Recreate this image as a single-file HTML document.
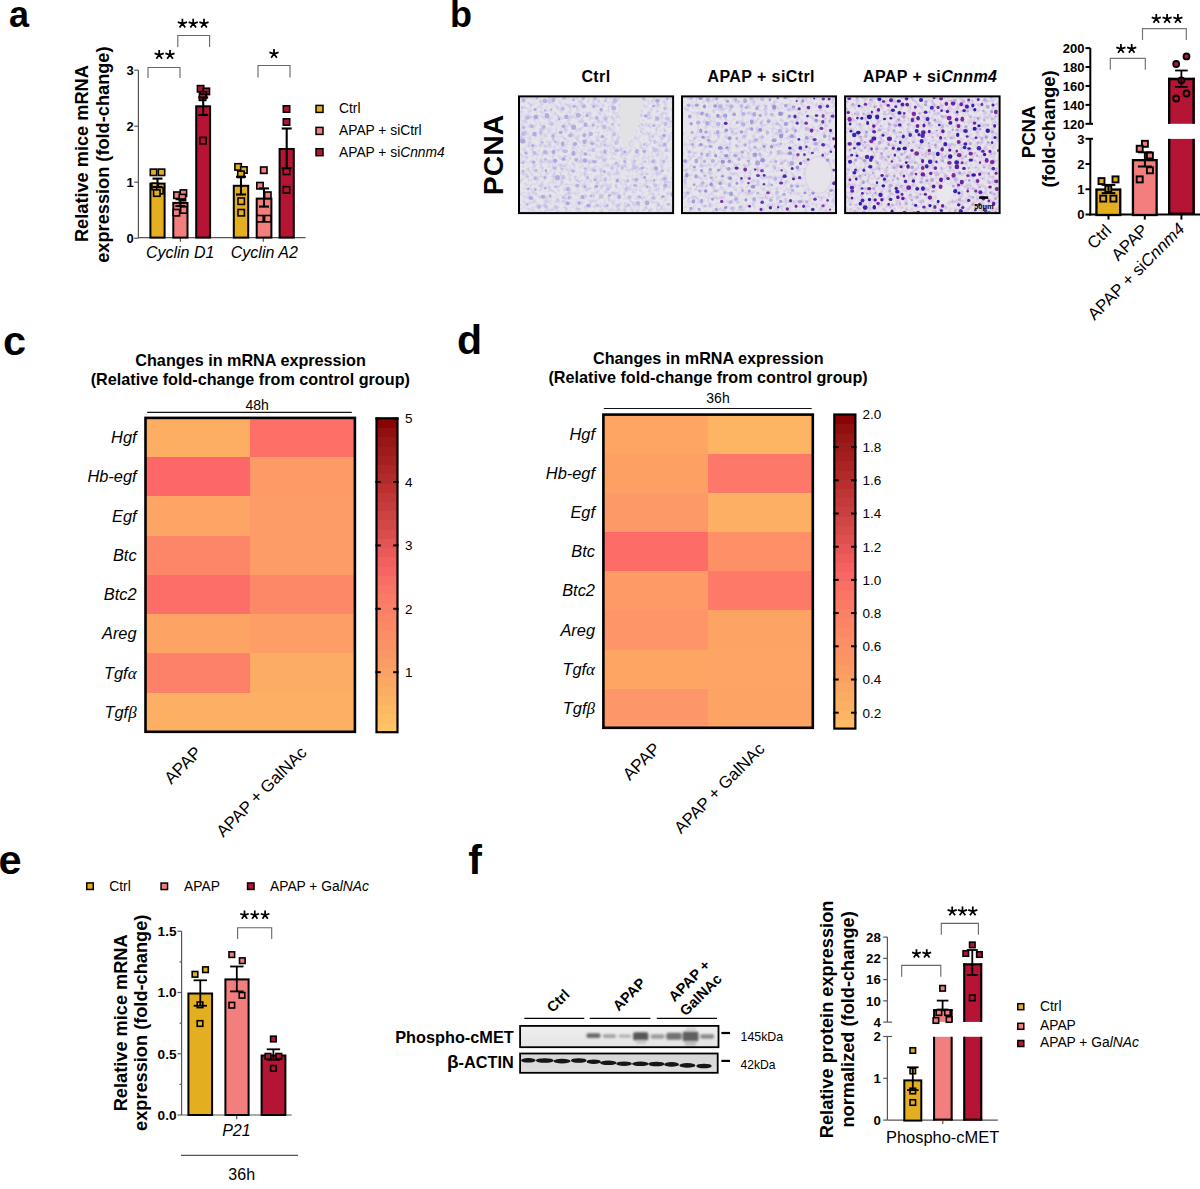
<!DOCTYPE html><html><head><meta charset="utf-8"><style>html,body{margin:0;padding:0;background:#fff;}svg{display:block;}</style></head><body><svg width="1200" height="1189" viewBox="0 0 1200 1189" font-family='"Liberation Sans", sans-serif'>
<rect width="1200" height="1189" fill="#fff"/>
<text x="9" y="27" font-size="36" font-weight="bold" fill="#000">a</text>
<text x="450" y="27" font-size="36" font-weight="bold" fill="#000">b</text>
<text x="3" y="355.2" font-size="41.5" font-weight="bold" fill="#000">c</text>
<text x="457" y="354" font-size="41" font-weight="bold" fill="#000">d</text>
<text x="-1.6" y="874" font-size="41.5" font-weight="bold" fill="#000">e</text>
<text x="468.2" y="873.6" font-size="41" font-weight="bold" fill="#000">f</text>
<line x1="138.4" y1="70.2" x2="138.4" y2="238.2" stroke="#565656" stroke-width="1.2"/>
<line x1="138.4" y1="237.7" x2="305.6" y2="237.7" stroke="#565656" stroke-width="1.2"/>
<line x1="134.2" y1="238.2" x2="138.4" y2="238.2" stroke="#565656" stroke-width="1.2"/>
<text x="133.8" y="242.89999999999998" font-size="13" font-weight="bold" text-anchor="end" fill="#000">0</text>
<line x1="134.2" y1="182.2" x2="138.4" y2="182.2" stroke="#565656" stroke-width="1.2"/>
<text x="133.8" y="186.89999999999998" font-size="13" font-weight="bold" text-anchor="end" fill="#000">1</text>
<line x1="134.2" y1="126.19999999999999" x2="138.4" y2="126.19999999999999" stroke="#565656" stroke-width="1.2"/>
<text x="133.8" y="130.89999999999998" font-size="13" font-weight="bold" text-anchor="end" fill="#000">2</text>
<line x1="134.2" y1="70.19999999999999" x2="138.4" y2="70.19999999999999" stroke="#565656" stroke-width="1.2"/>
<text x="133.8" y="74.89999999999999" font-size="13" font-weight="bold" text-anchor="end" fill="#000">3</text>
<line x1="180.4" y1="237.6" x2="180.4" y2="241.7" stroke="#565656" stroke-width="1.2"/>
<line x1="263.3" y1="237.6" x2="263.3" y2="241.7" stroke="#565656" stroke-width="1.2"/>
<text x="180.2" y="258" font-size="16" font-style="italic" text-anchor="middle" fill="#000">Cyclin D1</text>
<text x="264.3" y="258" font-size="16" font-style="italic" text-anchor="middle" fill="#000">Cyclin A2</text>
<text x="88.3" y="153.6" font-size="18.2" font-weight="bold" text-anchor="middle" transform="rotate(-90 88.3 153.6)" fill="#000">Relative mice mRNA</text>
<text x="108.8" y="154.6" font-size="18.2" font-weight="bold" text-anchor="middle" transform="rotate(-90 108.8 154.6)" fill="#000">expression (fold-change)</text>
<rect x="150.40" y="183.60" width="14.20" height="54.00" fill="#E3AE1F" stroke="#000" stroke-width="2"/>
<rect x="173.30" y="202.90" width="14.20" height="34.70" fill="#F27E7E" stroke="#000" stroke-width="2"/>
<rect x="196.20" y="106.30" width="13.90" height="131.30" fill="#B51434" stroke="#000" stroke-width="2"/>
<rect x="233.80" y="185.80" width="14.40" height="51.80" fill="#E3AE1F" stroke="#000" stroke-width="2"/>
<rect x="256.70" y="198.60" width="14.70" height="39.00" fill="#F27E7E" stroke="#000" stroke-width="2"/>
<rect x="279.60" y="149.00" width="14.20" height="88.60" fill="#B51434" stroke="#000" stroke-width="2"/>
<rect x="150.30" y="169.10" width="6.40" height="6.40" fill="#E3AE1F" stroke="#000" stroke-width="1.6"/>
<rect x="158.30" y="169.10" width="6.40" height="6.40" fill="#E3AE1F" stroke="#000" stroke-width="1.6"/>
<rect x="151.90" y="183.20" width="6.40" height="6.40" fill="#E3AE1F" stroke="#000" stroke-width="1.6"/>
<rect x="156.70" y="187.50" width="6.40" height="6.40" fill="#E3AE1F" stroke="#000" stroke-width="1.6"/>
<rect x="153.60" y="189.90" width="6.40" height="6.40" fill="#E3AE1F" stroke="#000" stroke-width="1.6"/>
<rect x="173.80" y="192.00" width="6.40" height="6.40" fill="#F27E7E" stroke="#000" stroke-width="1.6"/>
<rect x="180.20" y="189.90" width="6.40" height="6.40" fill="#F27E7E" stroke="#000" stroke-width="1.6"/>
<rect x="179.20" y="194.40" width="6.40" height="6.40" fill="#F27E7E" stroke="#000" stroke-width="1.6"/>
<rect x="173.20" y="209.50" width="6.40" height="6.40" fill="#F27E7E" stroke="#000" stroke-width="1.6"/>
<rect x="180.60" y="206.80" width="6.40" height="6.40" fill="#F27E7E" stroke="#000" stroke-width="1.6"/>
<rect x="197.40" y="85.60" width="6.40" height="6.40" fill="#B51434" stroke="#000" stroke-width="1.6"/>
<rect x="203.10" y="88.20" width="6.40" height="6.40" fill="#B51434" stroke="#000" stroke-width="1.6"/>
<rect x="200.10" y="91.60" width="6.40" height="6.40" fill="#B51434" stroke="#000" stroke-width="1.6"/>
<rect x="199.40" y="94.00" width="6.40" height="6.40" fill="#B51434" stroke="#000" stroke-width="1.6"/>
<rect x="199.80" y="137.40" width="6.40" height="6.40" fill="#B51434" stroke="#000" stroke-width="1.6"/>
<rect x="234.90" y="163.70" width="6.40" height="6.40" fill="#E3AE1F" stroke="#000" stroke-width="1.6"/>
<rect x="240.70" y="166.80" width="6.40" height="6.40" fill="#E3AE1F" stroke="#000" stroke-width="1.6"/>
<rect x="237.70" y="171.10" width="6.40" height="6.40" fill="#E3AE1F" stroke="#000" stroke-width="1.6"/>
<rect x="238.00" y="198.00" width="6.40" height="6.40" fill="#E3AE1F" stroke="#000" stroke-width="1.6"/>
<rect x="238.00" y="209.50" width="6.40" height="6.40" fill="#E3AE1F" stroke="#000" stroke-width="1.6"/>
<rect x="260.60" y="167.00" width="6.40" height="6.40" fill="#F27E7E" stroke="#000" stroke-width="1.6"/>
<rect x="256.80" y="182.50" width="6.40" height="6.40" fill="#F27E7E" stroke="#000" stroke-width="1.6"/>
<rect x="264.60" y="192.00" width="6.40" height="6.40" fill="#F27E7E" stroke="#000" stroke-width="1.6"/>
<rect x="256.80" y="215.50" width="6.40" height="6.40" fill="#F27E7E" stroke="#000" stroke-width="1.6"/>
<rect x="264.60" y="215.50" width="6.40" height="6.40" fill="#F27E7E" stroke="#000" stroke-width="1.6"/>
<rect x="283.30" y="105.80" width="6.40" height="6.40" fill="#B51434" stroke="#000" stroke-width="1.6"/>
<rect x="283.30" y="118.80" width="6.40" height="6.40" fill="#B51434" stroke="#000" stroke-width="1.6"/>
<rect x="283.30" y="168.10" width="6.40" height="6.40" fill="#B51434" stroke="#000" stroke-width="1.6"/>
<rect x="283.30" y="186.60" width="6.40" height="6.40" fill="#B51434" stroke="#000" stroke-width="1.6"/>
<line x1="157.5" y1="178.6" x2="157.5" y2="187" stroke="#000" stroke-width="2.1"/>
<line x1="152.5" y1="178.6" x2="162.5" y2="178.6" stroke="#000" stroke-width="2.1"/>
<line x1="152.5" y1="187" x2="162.5" y2="187" stroke="#000" stroke-width="2.1"/>
<line x1="180.4" y1="199.2" x2="180.4" y2="206" stroke="#000" stroke-width="2.1"/>
<line x1="175.4" y1="199.2" x2="185.4" y2="199.2" stroke="#000" stroke-width="2.1"/>
<line x1="175.4" y1="206" x2="185.4" y2="206" stroke="#000" stroke-width="2.1"/>
<line x1="203.2" y1="97.5" x2="203.2" y2="115" stroke="#000" stroke-width="2.1"/>
<line x1="198.2" y1="97.5" x2="208.2" y2="97.5" stroke="#000" stroke-width="2.1"/>
<line x1="198.2" y1="115" x2="208.2" y2="115" stroke="#000" stroke-width="2.1"/>
<line x1="241" y1="176.7" x2="241" y2="194.5" stroke="#000" stroke-width="2.1"/>
<line x1="236.0" y1="176.7" x2="246.0" y2="176.7" stroke="#000" stroke-width="2.1"/>
<line x1="236.0" y1="194.5" x2="246.0" y2="194.5" stroke="#000" stroke-width="2.1"/>
<line x1="264" y1="188.4" x2="264" y2="206.6" stroke="#000" stroke-width="2.1"/>
<line x1="259.0" y1="188.4" x2="269.0" y2="188.4" stroke="#000" stroke-width="2.1"/>
<line x1="259.0" y1="206.6" x2="269.0" y2="206.6" stroke="#000" stroke-width="2.1"/>
<line x1="286.7" y1="128.5" x2="286.7" y2="168.2" stroke="#000" stroke-width="2.1"/>
<line x1="281.7" y1="128.5" x2="291.7" y2="128.5" stroke="#000" stroke-width="2.1"/>
<line x1="281.7" y1="168.2" x2="291.7" y2="168.2" stroke="#000" stroke-width="2.1"/>
<polyline points="148,78 148,67.5 180,67.5 180,78" fill="none" stroke="#666666" stroke-width="1.1"/>
<polyline points="177.8,47 177.8,35.5 209.6,35.5 209.6,47" fill="none" stroke="#666666" stroke-width="1.1"/>
<polyline points="258,77.5 258,65.5 290,65.5 290,77.5" fill="none" stroke="#666666" stroke-width="1.1"/>
<path d="M159.20,54.80L159.20,50.00M159.20,54.80L163.77,53.32M159.20,54.80L162.02,58.68M159.20,54.80L156.38,58.68M159.20,54.80L154.63,53.32" stroke="#000" stroke-width="1.75" fill="none"/>
<path d="M170.00,54.80L170.00,50.00M170.00,54.80L174.57,53.32M170.00,54.80L172.82,58.68M170.00,54.80L167.18,58.68M170.00,54.80L165.43,53.32" stroke="#000" stroke-width="1.75" fill="none"/>
<path d="M182.40,23.55L182.40,18.75M182.40,23.55L186.97,22.07M182.40,23.55L185.22,27.43M182.40,23.55L179.58,27.43M182.40,23.55L177.83,22.07" stroke="#000" stroke-width="1.75" fill="none"/>
<path d="M193.20,23.55L193.20,18.75M193.20,23.55L197.77,22.07M193.20,23.55L196.02,27.43M193.20,23.55L190.38,27.43M193.20,23.55L188.63,22.07" stroke="#000" stroke-width="1.75" fill="none"/>
<path d="M204.00,23.55L204.00,18.75M204.00,23.55L208.57,22.07M204.00,23.55L206.82,27.43M204.00,23.55L201.18,27.43M204.00,23.55L199.43,22.07" stroke="#000" stroke-width="1.75" fill="none"/>
<path d="M274.00,53.80L274.00,49.00M274.00,53.80L278.57,52.32M274.00,53.80L276.82,57.68M274.00,53.80L271.18,57.68M274.00,53.80L269.43,52.32" stroke="#000" stroke-width="1.75" fill="none"/>
<rect x="316.00" y="105.40" width="7.00" height="7.00" fill="#E3AE1F" stroke="#000" stroke-width="1.5"/>
<rect x="316.00" y="127.40" width="7.00" height="7.00" fill="#F27E7E" stroke="#000" stroke-width="1.5"/>
<rect x="316.00" y="148.70" width="7.00" height="7.00" fill="#B51434" stroke="#000" stroke-width="1.5"/>
<text x="339" y="113.3" font-size="13.8" fill="#000">Ctrl</text>
<text x="339" y="134.7" font-size="13.8" fill="#000">APAP + siCtrl</text>
<text x="339" y="156.7" font-size="13.8" fill="#000">APAP + si<tspan font-style="italic">Cnnm4</tspan></text>
<text x="502.6" y="154.9" font-size="28.4" font-weight="bold" text-anchor="middle" transform="rotate(-90 502.6 154.9)" fill="#000">PCNA</text>
<text x="596" y="81.7" font-size="16" font-weight="bold" text-anchor="middle" fill="#000" letter-spacing="0.42">Ctrl</text>
<text x="761.2" y="81.7" font-size="16" font-weight="bold" text-anchor="middle" fill="#000" letter-spacing="0.42">APAP + siCtrl</text>
<text x="930.2" y="81.7" font-size="16" font-weight="bold" text-anchor="middle" fill="#000" letter-spacing="0.4">APAP + si<tspan font-style="italic">Cnnm4</tspan></text>
<defs><filter id="bl" x="-5%" y="-5%" width="110%" height="110%"><feGaussianBlur stdDeviation="0.6"/></filter><filter id="bl2" x="-50%" y="-50%" width="200%" height="200%"><feGaussianBlur stdDeviation="0.9"/></filter><filter id="tx1" x="0" y="0" width="100%" height="100%" color-interpolation-filters="sRGB"><feTurbulence type="fractalNoise" baseFrequency="0.25" numOctaves="3" seed="3"/><feColorMatrix values="0 0 0 0 0.79  0 0 0 0 0.76  0 0 0 0 0.90  2.4 0 0 0 -1.0"/></filter><filter id="tx2" x="0" y="0" width="100%" height="100%" color-interpolation-filters="sRGB"><feTurbulence type="fractalNoise" baseFrequency="0.25" numOctaves="3" seed="5"/><feColorMatrix values="0 0 0 0 0.79  0 0 0 0 0.74  0 0 0 0 0.90  2.4 0 0 0 -1.05"/></filter><filter id="tx3" x="0" y="0" width="100%" height="100%" color-interpolation-filters="sRGB"><feTurbulence type="fractalNoise" baseFrequency="0.25" numOctaves="3" seed="7"/><feColorMatrix values="0 0 0 0 0.80  0 0 0 0 0.70  0 0 0 0 0.88  2.4 0 0 0 -1.0"/></filter></defs>
<defs><clipPath id="c1"><rect x="520" y="97.4" width="152.10" height="114.70"/></clipPath></defs>
<g clip-path="url(#c1)">
<rect x="520.00" y="97.40" width="152.10" height="114.70" fill="#E7E5EC"/>
<rect x="520" y="97.4" width="152.10000000000002" height="114.69999999999999" filter="url(#tx1)"/>
<path d="M620.2,96 L641.8,96 C641.5,116 635,138 625,147.5 C622,146.5 620.6,140 620.4,128 Z" fill="#E2E2E4"/>
<g filter="url(#bl)"><ellipse cx="523.7" cy="100.1" rx="1.9" ry="2.2" fill="#B6B2E2"/><ellipse cx="537.0" cy="98.1" rx="1.5" ry="1.5" fill="#B6B2E2"/><ellipse cx="544.9" cy="100.8" rx="2.4" ry="2.4" fill="#B6B2E2"/><ellipse cx="553.3" cy="99.8" rx="2.0" ry="2.6" fill="#B6B2E2"/><ellipse cx="564.3" cy="97.8" rx="2.0" ry="2.0" fill="#B6B2E2"/><ellipse cx="573.5" cy="99.7" rx="1.7" ry="1.5" fill="#BEBAE6"/><ellipse cx="583.3" cy="98.1" rx="1.7" ry="1.8" fill="#B2ACE0"/><ellipse cx="595.0" cy="98.5" rx="1.9" ry="2.1" fill="#BEBAE6"/><ellipse cx="605.3" cy="101.1" rx="1.9" ry="1.4" fill="#C6C2E8"/><ellipse cx="614.9" cy="100.5" rx="2.2" ry="2.7" fill="#BEBAE6"/><ellipse cx="643.5" cy="98.4" rx="1.5" ry="1.5" fill="#B6B2E2"/><ellipse cx="657.4" cy="100.8" rx="2.3" ry="2.0" fill="#AEA8DE"/><ellipse cx="667.2" cy="98.8" rx="1.2" ry="1.6" fill="#B2ACE0"/><ellipse cx="522.2" cy="107.7" rx="1.4" ry="1.4" fill="#C6C2E8"/><ellipse cx="535.0" cy="109.6" rx="1.6" ry="1.5" fill="#B2ACE0"/><ellipse cx="545.0" cy="110.2" rx="1.2" ry="1.5" fill="#BEBAE6"/><ellipse cx="551.1" cy="109.7" rx="1.3" ry="1.6" fill="#BEBAE6"/><ellipse cx="562.7" cy="108.5" rx="2.1" ry="2.1" fill="#BEBAE6"/><ellipse cx="574.1" cy="106.2" rx="1.7" ry="1.5" fill="#B2ACE0"/><ellipse cx="583.9" cy="106.3" rx="2.3" ry="2.0" fill="#B6B2E2"/><ellipse cx="593.7" cy="106.5" rx="1.3" ry="1.4" fill="#B2ACE0"/><ellipse cx="601.2" cy="109.8" rx="1.8" ry="2.0" fill="#B2ACE0"/><ellipse cx="613.7" cy="108.1" rx="2.6" ry="2.2" fill="#B6B2E2"/><ellipse cx="653.5" cy="106.1" rx="1.7" ry="1.4" fill="#B2ACE0"/><ellipse cx="664.8" cy="108.3" rx="1.5" ry="1.7" fill="#BEBAE6"/><ellipse cx="527.6" cy="117.5" rx="2.4" ry="2.3" fill="#BEBAE6"/><ellipse cx="535.8" cy="117.1" rx="2.4" ry="2.3" fill="#AEA8DE"/><ellipse cx="546.9" cy="115.7" rx="2.3" ry="2.7" fill="#B2ACE0"/><ellipse cx="559.2" cy="119.0" rx="1.2" ry="1.4" fill="#AEA8DE"/><ellipse cx="566.3" cy="116.9" rx="2.2" ry="2.3" fill="#B2ACE0"/><ellipse cx="578.3" cy="115.2" rx="2.5" ry="2.5" fill="#B6B2E2"/><ellipse cx="586.9" cy="115.6" rx="1.6" ry="1.5" fill="#AEA8DE"/><ellipse cx="596.9" cy="118.1" rx="1.8" ry="1.8" fill="#B6B2E2"/><ellipse cx="605.5" cy="118.8" rx="2.0" ry="1.9" fill="#BEBAE6"/><ellipse cx="645.8" cy="115.9" rx="2.0" ry="1.7" fill="#AEA8DE"/><ellipse cx="657.2" cy="118.5" rx="2.2" ry="2.2" fill="#B6B2E2"/><ellipse cx="667.4" cy="118.8" rx="2.5" ry="1.9" fill="#C6C2E8"/><ellipse cx="523.6" cy="127.4" rx="2.1" ry="1.7" fill="#BEBAE6"/><ellipse cx="531.9" cy="126.3" rx="1.8" ry="1.9" fill="#B6B2E2"/><ellipse cx="543.8" cy="127.1" rx="1.9" ry="2.0" fill="#B6B2E2"/><ellipse cx="551.5" cy="124.0" rx="2.1" ry="2.2" fill="#C6C2E8"/><ellipse cx="563.3" cy="126.3" rx="1.8" ry="1.8" fill="#B2ACE0"/><ellipse cx="573.6" cy="127.2" rx="2.5" ry="2.6" fill="#B2ACE0"/><ellipse cx="585.5" cy="124.7" rx="2.0" ry="2.2" fill="#B2ACE0"/><ellipse cx="593.2" cy="125.3" rx="1.3" ry="1.2" fill="#AEA8DE"/><ellipse cx="604.3" cy="127.0" rx="2.4" ry="2.2" fill="#BEBAE6"/><ellipse cx="612.4" cy="124.2" rx="1.8" ry="1.5" fill="#C6C2E8"/><ellipse cx="653.8" cy="125.5" rx="1.7" ry="1.6" fill="#B6B2E2"/><ellipse cx="665.5" cy="124.1" rx="2.0" ry="2.1" fill="#BEBAE6"/><ellipse cx="523.6" cy="133.6" rx="2.4" ry="2.3" fill="#BEBAE6"/><ellipse cx="534.4" cy="134.2" rx="2.3" ry="2.4" fill="#B2ACE0"/><ellipse cx="540.6" cy="132.7" rx="1.5" ry="2.0" fill="#BEBAE6"/><ellipse cx="553.0" cy="135.9" rx="1.8" ry="1.8" fill="#B6B2E2"/><ellipse cx="560.7" cy="132.5" rx="2.0" ry="1.8" fill="#B2ACE0"/><ellipse cx="570.4" cy="135.5" rx="2.1" ry="2.1" fill="#B6B2E2"/><ellipse cx="584.3" cy="135.2" rx="2.0" ry="2.1" fill="#B2ACE0"/><ellipse cx="591.0" cy="133.9" rx="2.0" ry="2.0" fill="#B6B2E2"/><ellipse cx="602.4" cy="136.7" rx="2.1" ry="1.6" fill="#B2ACE0"/><ellipse cx="613.8" cy="134.3" rx="2.1" ry="2.2" fill="#C6C2E8"/><ellipse cx="652.9" cy="136.3" rx="1.3" ry="1.7" fill="#C6C2E8"/><ellipse cx="664.0" cy="135.4" rx="2.1" ry="1.6" fill="#AEA8DE"/><ellipse cx="522.8" cy="141.2" rx="2.7" ry="2.4" fill="#AEA8DE"/><ellipse cx="532.7" cy="145.4" rx="1.4" ry="1.5" fill="#AEA8DE"/><ellipse cx="542.0" cy="142.4" rx="1.7" ry="1.4" fill="#BEBAE6"/><ellipse cx="555.2" cy="141.8" rx="1.2" ry="1.3" fill="#B2ACE0"/><ellipse cx="562.7" cy="143.8" rx="1.9" ry="2.5" fill="#B2ACE0"/><ellipse cx="575.1" cy="143.8" rx="2.1" ry="1.9" fill="#AEA8DE"/><ellipse cx="584.4" cy="141.8" rx="2.1" ry="2.2" fill="#B2ACE0"/><ellipse cx="592.3" cy="143.5" rx="2.1" ry="1.6" fill="#B2ACE0"/><ellipse cx="604.7" cy="144.7" rx="1.2" ry="1.5" fill="#BEBAE6"/><ellipse cx="615.9" cy="142.9" rx="2.0" ry="2.0" fill="#C6C2E8"/><ellipse cx="644.0" cy="144.5" rx="1.4" ry="1.5" fill="#C6C2E8"/><ellipse cx="654.9" cy="142.1" rx="1.8" ry="1.8" fill="#C6C2E8"/><ellipse cx="664.7" cy="144.6" rx="1.8" ry="2.0" fill="#B2ACE0"/><ellipse cx="526.0" cy="153.0" rx="1.6" ry="1.6" fill="#B2ACE0"/><ellipse cx="534.3" cy="153.0" rx="1.9" ry="2.0" fill="#BEBAE6"/><ellipse cx="545.2" cy="152.1" rx="2.4" ry="2.2" fill="#B6B2E2"/><ellipse cx="553.5" cy="152.1" rx="2.0" ry="2.1" fill="#AEA8DE"/><ellipse cx="565.1" cy="151.2" rx="2.6" ry="1.9" fill="#BEBAE6"/><ellipse cx="573.5" cy="153.3" rx="2.0" ry="2.6" fill="#AEA8DE"/><ellipse cx="585.4" cy="153.9" rx="1.8" ry="1.6" fill="#AEA8DE"/><ellipse cx="593.2" cy="150.0" rx="2.0" ry="2.2" fill="#C6C2E8"/><ellipse cx="604.9" cy="151.7" rx="1.8" ry="2.4" fill="#B6B2E2"/><ellipse cx="616.8" cy="150.5" rx="2.3" ry="1.9" fill="#BEBAE6"/><ellipse cx="624.8" cy="151.7" rx="1.6" ry="1.5" fill="#B2ACE0"/><ellipse cx="636.9" cy="151.2" rx="2.0" ry="2.5" fill="#B6B2E2"/><ellipse cx="644.2" cy="151.2" rx="1.8" ry="1.8" fill="#B2ACE0"/><ellipse cx="655.0" cy="150.1" rx="2.6" ry="2.3" fill="#C6C2E8"/><ellipse cx="666.3" cy="150.2" rx="1.9" ry="1.9" fill="#C6C2E8"/><ellipse cx="522.9" cy="162.9" rx="1.5" ry="1.4" fill="#BEBAE6"/><ellipse cx="533.8" cy="162.1" rx="1.6" ry="1.7" fill="#AEA8DE"/><ellipse cx="545.6" cy="159.3" rx="1.4" ry="1.6" fill="#BEBAE6"/><ellipse cx="555.1" cy="160.8" rx="2.3" ry="2.1" fill="#AEA8DE"/><ellipse cx="563.5" cy="159.2" rx="1.8" ry="1.8" fill="#AEA8DE"/><ellipse cx="576.2" cy="159.7" rx="2.0" ry="2.0" fill="#B6B2E2"/><ellipse cx="585.0" cy="160.5" rx="2.1" ry="2.2" fill="#AEA8DE"/><ellipse cx="594.2" cy="161.8" rx="2.2" ry="1.8" fill="#B2ACE0"/><ellipse cx="603.9" cy="159.9" rx="1.9" ry="1.9" fill="#C6C2E8"/><ellipse cx="616.2" cy="163.1" rx="1.5" ry="1.6" fill="#BEBAE6"/><ellipse cx="624.7" cy="161.4" rx="1.6" ry="1.6" fill="#B6B2E2"/><ellipse cx="635.0" cy="160.9" rx="1.4" ry="1.4" fill="#C6C2E8"/><ellipse cx="645.0" cy="161.8" rx="1.6" ry="1.2" fill="#C6C2E8"/><ellipse cx="653.2" cy="161.3" rx="1.9" ry="1.7" fill="#B6B2E2"/><ellipse cx="663.8" cy="161.6" rx="1.3" ry="1.7" fill="#B6B2E2"/><ellipse cx="522.9" cy="171.1" rx="1.3" ry="1.3" fill="#B6B2E2"/><ellipse cx="535.9" cy="170.4" rx="1.7" ry="1.7" fill="#BEBAE6"/><ellipse cx="545.9" cy="170.7" rx="1.2" ry="1.6" fill="#AEA8DE"/><ellipse cx="554.6" cy="168.0" rx="2.3" ry="1.8" fill="#BEBAE6"/><ellipse cx="561.9" cy="169.1" rx="1.6" ry="1.4" fill="#C6C2E8"/><ellipse cx="573.0" cy="171.3" rx="1.8" ry="1.4" fill="#B6B2E2"/><ellipse cx="585.3" cy="168.6" rx="1.8" ry="1.4" fill="#BEBAE6"/><ellipse cx="594.5" cy="170.3" rx="2.1" ry="1.6" fill="#BEBAE6"/><ellipse cx="604.3" cy="171.7" rx="1.8" ry="1.4" fill="#B6B2E2"/><ellipse cx="611.9" cy="167.9" rx="1.9" ry="1.7" fill="#C6C2E8"/><ellipse cx="622.2" cy="167.9" rx="1.5" ry="1.9" fill="#BEBAE6"/><ellipse cx="635.0" cy="167.7" rx="2.6" ry="2.1" fill="#C6C2E8"/><ellipse cx="642.2" cy="167.9" rx="2.0" ry="1.5" fill="#B6B2E2"/><ellipse cx="656.0" cy="168.5" rx="2.0" ry="2.3" fill="#AEA8DE"/><ellipse cx="662.1" cy="170.7" rx="2.0" ry="1.5" fill="#BEBAE6"/><ellipse cx="527.4" cy="176.5" rx="1.7" ry="1.5" fill="#C6C2E8"/><ellipse cx="535.1" cy="178.4" rx="1.7" ry="1.8" fill="#B6B2E2"/><ellipse cx="544.9" cy="177.6" rx="1.5" ry="1.5" fill="#B2ACE0"/><ellipse cx="557.5" cy="177.7" rx="2.4" ry="2.6" fill="#B2ACE0"/><ellipse cx="563.5" cy="177.4" rx="2.0" ry="2.3" fill="#C6C2E8"/><ellipse cx="576.9" cy="180.4" rx="1.5" ry="1.2" fill="#C6C2E8"/><ellipse cx="587.5" cy="177.7" rx="1.8" ry="1.8" fill="#BEBAE6"/><ellipse cx="595.0" cy="179.8" rx="1.8" ry="1.6" fill="#B6B2E2"/><ellipse cx="605.2" cy="179.3" rx="1.8" ry="2.2" fill="#C6C2E8"/><ellipse cx="617.3" cy="180.7" rx="1.8" ry="1.9" fill="#AEA8DE"/><ellipse cx="627.8" cy="180.7" rx="1.5" ry="1.6" fill="#BEBAE6"/><ellipse cx="636.4" cy="179.7" rx="2.0" ry="2.0" fill="#B6B2E2"/><ellipse cx="644.6" cy="177.5" rx="1.4" ry="1.4" fill="#AEA8DE"/><ellipse cx="654.1" cy="180.3" rx="1.3" ry="1.4" fill="#B2ACE0"/><ellipse cx="664.5" cy="178.7" rx="2.3" ry="1.7" fill="#B6B2E2"/><ellipse cx="528.2" cy="188.9" rx="1.3" ry="1.2" fill="#AEA8DE"/><ellipse cx="535.4" cy="189.5" rx="1.3" ry="1.5" fill="#B2ACE0"/><ellipse cx="545.3" cy="187.9" rx="1.5" ry="1.5" fill="#B6B2E2"/><ellipse cx="555.5" cy="186.8" rx="1.6" ry="1.2" fill="#BEBAE6"/><ellipse cx="567.8" cy="189.2" rx="2.1" ry="2.1" fill="#B6B2E2"/><ellipse cx="577.3" cy="185.5" rx="2.2" ry="1.8" fill="#B6B2E2"/><ellipse cx="585.0" cy="186.9" rx="1.5" ry="1.6" fill="#B2ACE0"/><ellipse cx="596.3" cy="186.4" rx="2.0" ry="1.7" fill="#AEA8DE"/><ellipse cx="607.8" cy="189.1" rx="2.0" ry="2.1" fill="#C6C2E8"/><ellipse cx="616.1" cy="186.1" rx="1.3" ry="1.8" fill="#C6C2E8"/><ellipse cx="626.4" cy="188.8" rx="1.8" ry="2.1" fill="#C6C2E8"/><ellipse cx="635.1" cy="185.4" rx="2.3" ry="1.7" fill="#BEBAE6"/><ellipse cx="647.3" cy="186.8" rx="1.4" ry="1.3" fill="#B2ACE0"/><ellipse cx="655.3" cy="185.5" rx="2.0" ry="2.1" fill="#C6C2E8"/><ellipse cx="665.4" cy="185.8" rx="2.3" ry="2.0" fill="#B6B2E2"/><ellipse cx="530.8" cy="198.0" rx="2.3" ry="2.1" fill="#B2ACE0"/><ellipse cx="542.8" cy="196.7" rx="2.4" ry="2.0" fill="#B2ACE0"/><ellipse cx="550.0" cy="195.8" rx="1.4" ry="1.3" fill="#B2ACE0"/><ellipse cx="563.3" cy="197.6" rx="1.4" ry="1.5" fill="#BEBAE6"/><ellipse cx="569.2" cy="197.7" rx="1.7" ry="1.9" fill="#B6B2E2"/><ellipse cx="582.5" cy="196.9" rx="1.9" ry="2.0" fill="#AEA8DE"/><ellipse cx="591.0" cy="195.9" rx="1.6" ry="1.3" fill="#B6B2E2"/><ellipse cx="601.0" cy="196.7" rx="2.4" ry="2.1" fill="#C6C2E8"/><ellipse cx="609.4" cy="195.6" rx="1.4" ry="1.4" fill="#AEA8DE"/><ellipse cx="619.2" cy="196.8" rx="2.1" ry="2.4" fill="#B6B2E2"/><ellipse cx="629.4" cy="197.3" rx="2.2" ry="1.7" fill="#C6C2E8"/><ellipse cx="639.4" cy="196.7" rx="1.8" ry="1.5" fill="#B6B2E2"/><ellipse cx="653.3" cy="198.0" rx="2.2" ry="1.8" fill="#BEBAE6"/><ellipse cx="662.7" cy="196.7" rx="1.7" ry="1.4" fill="#AEA8DE"/><ellipse cx="672.7" cy="194.6" rx="2.3" ry="2.4" fill="#B2ACE0"/><ellipse cx="527.0" cy="204.4" rx="1.3" ry="1.7" fill="#BEBAE6"/><ellipse cx="538.9" cy="206.7" rx="2.0" ry="2.3" fill="#BEBAE6"/><ellipse cx="546.2" cy="206.6" rx="2.0" ry="2.1" fill="#C6C2E8"/><ellipse cx="556.4" cy="207.2" rx="2.0" ry="2.0" fill="#C6C2E8"/><ellipse cx="567.6" cy="203.4" rx="2.1" ry="1.9" fill="#AEA8DE"/><ellipse cx="579.2" cy="203.0" rx="1.7" ry="1.9" fill="#B2ACE0"/><ellipse cx="588.5" cy="205.7" rx="2.3" ry="1.9" fill="#AEA8DE"/><ellipse cx="597.2" cy="205.6" rx="2.1" ry="1.6" fill="#C6C2E8"/><ellipse cx="607.0" cy="205.7" rx="1.4" ry="1.3" fill="#B6B2E2"/><ellipse cx="618.3" cy="205.2" rx="2.0" ry="1.7" fill="#C6C2E8"/><ellipse cx="628.7" cy="204.9" rx="1.5" ry="1.4" fill="#BEBAE6"/><ellipse cx="637.9" cy="203.1" rx="2.4" ry="2.2" fill="#BEBAE6"/><ellipse cx="647.1" cy="202.9" rx="2.3" ry="2.3" fill="#B2ACE0"/><ellipse cx="658.6" cy="205.1" rx="1.8" ry="1.3" fill="#C6C2E8"/><ellipse cx="668.3" cy="204.6" rx="1.7" ry="1.3" fill="#BEBAE6"/></g>
</g>
<rect x="519.00" y="96.40" width="154.10" height="116.70" fill="none" stroke="#000" stroke-width="2"/>
<defs><clipPath id="c2"><rect x="683" y="97.4" width="152.00" height="114.70"/></clipPath></defs>
<g clip-path="url(#c2)">
<rect x="683.00" y="97.40" width="152.00" height="114.70" fill="#E7E5EC"/>
<rect x="683" y="97.4" width="152" height="114.69999999999999" filter="url(#tx2)"/>
<ellipse cx="818.5" cy="175" rx="13.5" ry="18.5" fill="#E7E3EA" stroke="#DDD5E5" stroke-width="1.5"/>
<ellipse cx="690" cy="125" rx="8" ry="12" fill="#E8E4EC" opacity="0.8"/>
<g filter="url(#bl)"><ellipse cx="691.1" cy="98.1" rx="1.9" ry="2.0" fill="#C0BAE4"/><ellipse cx="700.6" cy="98.0" rx="2.2" ry="2.1" fill="#9C95D5"/><ellipse cx="707.9" cy="99.6" rx="2.0" ry="2.2" fill="#B8B2E1"/><ellipse cx="716.6" cy="98.2" rx="1.7" ry="2.2" fill="#AEA8DD"/><ellipse cx="727.5" cy="101.3" rx="1.6" ry="1.5" fill="#A59FD9"/><ellipse cx="735.7" cy="99.5" rx="1.4" ry="1.3" fill="#AEA8DD"/><ellipse cx="745.0" cy="100.9" rx="1.9" ry="2.3" fill="#AEA8DD"/><ellipse cx="751.2" cy="98.3" rx="2.0" ry="1.9" fill="#C0BAE4"/><ellipse cx="762.4" cy="99.1" rx="2.4" ry="2.1" fill="#C0BAE4"/><ellipse cx="770.0" cy="99.7" rx="1.2" ry="1.6" fill="#A59FD9"/><ellipse cx="777.7" cy="97.8" rx="1.3" ry="1.0" fill="#5E2AA6"/><ellipse cx="785.3" cy="97.4" rx="1.8" ry="1.5" fill="#9C95D5"/><ellipse cx="796.7" cy="101.1" rx="1.1" ry="1.1" fill="#8E3AB0"/><ellipse cx="802.7" cy="100.9" rx="1.6" ry="1.9" fill="#9C95D5"/><ellipse cx="814.2" cy="98.5" rx="1.0" ry="1.1" fill="#4E2EB2"/><ellipse cx="823.3" cy="98.8" rx="1.7" ry="1.6" fill="#6A35B8"/><ellipse cx="829.1" cy="99.0" rx="1.5" ry="1.4" fill="#5E2AA6"/><ellipse cx="688.5" cy="105.3" rx="1.7" ry="1.6" fill="#AEA8DD"/><ellipse cx="696.8" cy="105.2" rx="2.0" ry="1.6" fill="#A59FD9"/><ellipse cx="704.5" cy="106.5" rx="1.6" ry="2.1" fill="#9C95D5"/><ellipse cx="715.2" cy="106.0" rx="2.1" ry="1.8" fill="#A59FD9"/><ellipse cx="720.4" cy="106.4" rx="2.3" ry="2.1" fill="#B8B2E1"/><ellipse cx="731.5" cy="106.6" rx="2.2" ry="2.1" fill="#B8B2E1"/><ellipse cx="741.4" cy="106.0" rx="2.0" ry="1.9" fill="#C0BAE4"/><ellipse cx="746.5" cy="107.5" rx="2.1" ry="1.7" fill="#B8B2E1"/><ellipse cx="757.0" cy="108.3" rx="1.7" ry="1.8" fill="#AEA8DD"/><ellipse cx="766.1" cy="106.1" rx="1.3" ry="1.3" fill="#C0BAE4"/><ellipse cx="774.1" cy="107.2" rx="2.0" ry="2.6" fill="#9C95D5"/><ellipse cx="785.9" cy="105.7" rx="2.0" ry="1.9" fill="#AEA8DD"/><ellipse cx="793.5" cy="106.9" rx="1.8" ry="1.6" fill="#A59FD9"/><ellipse cx="799.2" cy="108.7" rx="1.6" ry="1.5" fill="#7A2FA8"/><ellipse cx="808.5" cy="107.6" rx="1.8" ry="1.9" fill="#7A2FA8"/><ellipse cx="820.0" cy="106.8" rx="1.9" ry="1.9" fill="#6A35B8"/><ellipse cx="827.5" cy="106.3" rx="1.7" ry="1.8" fill="#5E2AA6"/><ellipse cx="689.8" cy="116.4" rx="1.8" ry="2.0" fill="#A59FD9"/><ellipse cx="702.0" cy="113.5" rx="1.7" ry="2.0" fill="#A59FD9"/><ellipse cx="706.8" cy="115.1" rx="1.6" ry="1.9" fill="#AEA8DD"/><ellipse cx="717.9" cy="115.8" rx="1.8" ry="2.1" fill="#9C95D5"/><ellipse cx="725.2" cy="115.7" rx="2.1" ry="2.1" fill="#A59FD9"/><ellipse cx="734.2" cy="114.4" rx="1.7" ry="1.8" fill="#A59FD9"/><ellipse cx="743.4" cy="113.9" rx="2.2" ry="2.0" fill="#B8B2E1"/><ellipse cx="754.2" cy="114.4" rx="1.9" ry="2.4" fill="#AEA8DD"/><ellipse cx="760.3" cy="115.5" rx="1.7" ry="1.8" fill="#AEA8DD"/><ellipse cx="771.9" cy="114.7" rx="2.1" ry="1.9" fill="#C0BAE4"/><ellipse cx="780.5" cy="113.7" rx="2.4" ry="2.2" fill="#9C95D5"/><ellipse cx="789.4" cy="116.2" rx="1.6" ry="1.7" fill="#9C95D5"/><ellipse cx="795.0" cy="116.6" rx="1.6" ry="2.0" fill="#4E2EB2"/><ellipse cx="807.5" cy="116.1" rx="1.4" ry="1.4" fill="#4E2EB2"/><ellipse cx="816.5" cy="115.6" rx="1.8" ry="1.4" fill="#5E2AA6"/><ellipse cx="823.1" cy="116.1" rx="1.6" ry="2.0" fill="#8E3AB0"/><ellipse cx="832.5" cy="116.1" rx="2.0" ry="1.6" fill="#6A35B8"/><ellipse cx="691.2" cy="123.7" rx="1.7" ry="1.7" fill="#A59FD9"/><ellipse cx="698.3" cy="122.6" rx="2.3" ry="2.0" fill="#B8B2E1"/><ellipse cx="707.2" cy="123.1" rx="2.1" ry="2.2" fill="#AEA8DD"/><ellipse cx="718.2" cy="124.1" rx="2.4" ry="2.0" fill="#B8B2E1"/><ellipse cx="725.7" cy="123.3" rx="1.9" ry="1.6" fill="#5E2AA6"/><ellipse cx="737.2" cy="122.7" rx="1.5" ry="1.4" fill="#AEA8DD"/><ellipse cx="743.2" cy="124.2" rx="2.1" ry="2.3" fill="#B8B2E1"/><ellipse cx="751.7" cy="121.9" rx="1.9" ry="2.3" fill="#A59FD9"/><ellipse cx="761.1" cy="122.6" rx="1.5" ry="1.6" fill="#C0BAE4"/><ellipse cx="768.6" cy="121.3" rx="2.0" ry="2.1" fill="#AEA8DD"/><ellipse cx="777.1" cy="123.6" rx="1.8" ry="1.6" fill="#C0BAE4"/><ellipse cx="785.9" cy="124.0" rx="2.3" ry="2.1" fill="#A59FD9"/><ellipse cx="797.2" cy="123.2" rx="1.6" ry="1.6" fill="#6A35B8"/><ellipse cx="806.1" cy="123.2" rx="1.8" ry="1.6" fill="#7A2FA8"/><ellipse cx="816.2" cy="120.5" rx="1.7" ry="1.7" fill="#9C95D5"/><ellipse cx="822.8" cy="121.8" rx="1.6" ry="1.9" fill="#6A35B8"/><ellipse cx="829.9" cy="121.0" rx="1.5" ry="1.7" fill="#B8B2E1"/><ellipse cx="692.1" cy="132.5" rx="1.6" ry="1.8" fill="#B8B2E1"/><ellipse cx="700.8" cy="130.9" rx="1.7" ry="2.3" fill="#A59FD9"/><ellipse cx="706.0" cy="132.0" rx="1.6" ry="1.6" fill="#A59FD9"/><ellipse cx="717.7" cy="132.2" rx="1.7" ry="2.1" fill="#AEA8DD"/><ellipse cx="726.3" cy="130.2" rx="1.8" ry="1.8" fill="#9C95D5"/><ellipse cx="732.3" cy="132.1" rx="1.3" ry="1.5" fill="#C0BAE4"/><ellipse cx="741.5" cy="132.0" rx="1.9" ry="1.8" fill="#A59FD9"/><ellipse cx="751.7" cy="128.9" rx="1.8" ry="1.7" fill="#A59FD9"/><ellipse cx="760.2" cy="129.9" rx="2.1" ry="1.9" fill="#9C95D5"/><ellipse cx="767.5" cy="132.5" rx="1.7" ry="1.9" fill="#C0BAE4"/><ellipse cx="779.7" cy="130.8" rx="2.0" ry="2.1" fill="#B8B2E1"/><ellipse cx="786.5" cy="131.6" rx="1.3" ry="1.5" fill="#B8B2E1"/><ellipse cx="795.5" cy="130.8" rx="1.4" ry="1.8" fill="#A59FD9"/><ellipse cx="806.8" cy="128.8" rx="2.2" ry="1.9" fill="#C0BAE4"/><ellipse cx="811.6" cy="130.6" rx="1.9" ry="2.1" fill="#7A2FA8"/><ellipse cx="821.4" cy="128.4" rx="1.9" ry="1.6" fill="#7A2FA8"/><ellipse cx="830.5" cy="130.6" rx="1.6" ry="1.8" fill="#4E2EB2"/><ellipse cx="694.6" cy="138.2" rx="1.4" ry="1.3" fill="#C0BAE4"/><ellipse cx="703.0" cy="137.2" rx="1.7" ry="1.5" fill="#9C95D5"/><ellipse cx="708.5" cy="140.3" rx="1.7" ry="1.4" fill="#A59FD9"/><ellipse cx="718.5" cy="136.1" rx="1.1" ry="1.6" fill="#C0BAE4"/><ellipse cx="729.7" cy="138.1" rx="2.0" ry="1.9" fill="#9C95D5"/><ellipse cx="736.7" cy="138.5" rx="1.3" ry="1.4" fill="#AEA8DD"/><ellipse cx="744.3" cy="136.3" rx="1.8" ry="1.7" fill="#C0BAE4"/><ellipse cx="756.0" cy="139.9" rx="2.3" ry="1.9" fill="#B8B2E1"/><ellipse cx="762.5" cy="136.9" rx="1.7" ry="1.5" fill="#C0BAE4"/><ellipse cx="774.1" cy="140.3" rx="2.5" ry="1.9" fill="#A59FD9"/><ellipse cx="781.1" cy="136.0" rx="2.2" ry="2.2" fill="#9C95D5"/><ellipse cx="791.8" cy="136.2" rx="2.3" ry="2.0" fill="#A59FD9"/><ellipse cx="798.9" cy="139.3" rx="1.4" ry="1.4" fill="#4E2EB2"/><ellipse cx="806.8" cy="137.9" rx="2.0" ry="1.9" fill="#A59FD9"/><ellipse cx="814.6" cy="139.6" rx="2.1" ry="1.6" fill="#6A35B8"/><ellipse cx="824.7" cy="136.3" rx="1.7" ry="1.9" fill="#A59FD9"/><ellipse cx="833.6" cy="138.7" rx="1.5" ry="1.7" fill="#7A2FA8"/><ellipse cx="692.6" cy="144.3" rx="1.4" ry="1.6" fill="#AEA8DD"/><ellipse cx="700.9" cy="144.4" rx="1.7" ry="1.5" fill="#9C95D5"/><ellipse cx="710.5" cy="146.4" rx="2.1" ry="1.6" fill="#AEA8DD"/><ellipse cx="720.3" cy="147.9" rx="2.6" ry="1.9" fill="#9C95D5"/><ellipse cx="727.1" cy="147.6" rx="1.5" ry="1.4" fill="#9C95D5"/><ellipse cx="736.9" cy="145.9" rx="1.5" ry="1.3" fill="#C0BAE4"/><ellipse cx="745.2" cy="144.9" rx="1.6" ry="1.6" fill="#AEA8DD"/><ellipse cx="754.9" cy="147.3" rx="1.8" ry="1.8" fill="#B8B2E1"/><ellipse cx="764.0" cy="146.4" rx="1.3" ry="1.6" fill="#9C95D5"/><ellipse cx="771.6" cy="146.8" rx="1.8" ry="1.8" fill="#9C95D5"/><ellipse cx="780.8" cy="143.7" rx="1.5" ry="1.3" fill="#B8B2E1"/><ellipse cx="789.9" cy="148.0" rx="1.8" ry="1.5" fill="#4E2EB2"/><ellipse cx="800.3" cy="147.9" rx="1.9" ry="1.9" fill="#4E2EB2"/><ellipse cx="806.4" cy="146.8" rx="1.2" ry="1.5" fill="#5E2AA6"/><ellipse cx="815.8" cy="143.8" rx="2.0" ry="2.0" fill="#AEA8DD"/><ellipse cx="823.1" cy="144.8" rx="2.0" ry="1.7" fill="#5E2AA6"/><ellipse cx="835.1" cy="146.5" rx="1.5" ry="1.9" fill="#7A2FA8"/><ellipse cx="689.3" cy="151.9" rx="1.8" ry="1.8" fill="#C0BAE4"/><ellipse cx="701.8" cy="153.8" rx="1.5" ry="1.6" fill="#AEA8DD"/><ellipse cx="707.4" cy="155.0" rx="2.0" ry="2.0" fill="#B8B2E1"/><ellipse cx="715.7" cy="155.7" rx="1.5" ry="1.6" fill="#9C95D5"/><ellipse cx="726.2" cy="155.7" rx="2.3" ry="1.8" fill="#9C95D5"/><ellipse cx="735.4" cy="155.6" rx="2.3" ry="1.8" fill="#AEA8DD"/><ellipse cx="742.4" cy="152.2" rx="1.5" ry="1.6" fill="#AEA8DD"/><ellipse cx="755.0" cy="154.8" rx="2.4" ry="2.4" fill="#A59FD9"/><ellipse cx="759.7" cy="154.2" rx="1.6" ry="1.8" fill="#C0BAE4"/><ellipse cx="771.0" cy="152.5" rx="1.3" ry="1.3" fill="#B8B2E1"/><ellipse cx="778.6" cy="152.1" rx="1.9" ry="2.2" fill="#C0BAE4"/><ellipse cx="790.0" cy="153.3" rx="2.2" ry="2.0" fill="#9C95D5"/><ellipse cx="797.9" cy="154.7" rx="1.7" ry="1.7" fill="#8E3AB0"/><ellipse cx="804.4" cy="154.5" rx="1.4" ry="1.5" fill="#6A35B8"/><ellipse cx="812.4" cy="152.9" rx="1.5" ry="1.2" fill="#6A35B8"/><ellipse cx="822.7" cy="155.2" rx="1.3" ry="1.6" fill="#6A35B8"/><ellipse cx="830.9" cy="151.7" rx="1.3" ry="1.2" fill="#6A35B8"/><ellipse cx="685.1" cy="161.1" rx="2.1" ry="1.9" fill="#A59FD9"/><ellipse cx="696.3" cy="161.0" rx="2.0" ry="2.2" fill="#AEA8DD"/><ellipse cx="704.6" cy="161.4" rx="1.7" ry="1.7" fill="#B8B2E1"/><ellipse cx="712.8" cy="161.0" rx="2.1" ry="2.0" fill="#B8B2E1"/><ellipse cx="722.8" cy="161.7" rx="2.2" ry="2.0" fill="#9C95D5"/><ellipse cx="729.3" cy="161.2" rx="1.7" ry="1.7" fill="#9C95D5"/><ellipse cx="739.0" cy="159.2" rx="1.6" ry="1.7" fill="#B8B2E1"/><ellipse cx="748.5" cy="161.1" rx="1.6" ry="1.3" fill="#AEA8DD"/><ellipse cx="757.5" cy="162.8" rx="2.5" ry="2.6" fill="#AEA8DD"/><ellipse cx="762.7" cy="160.3" rx="2.4" ry="2.2" fill="#9C95D5"/><ellipse cx="775.7" cy="161.4" rx="1.6" ry="1.7" fill="#B8B2E1"/><ellipse cx="781.7" cy="163.3" rx="1.5" ry="1.5" fill="#C0BAE4"/><ellipse cx="791.8" cy="163.2" rx="2.2" ry="2.2" fill="#AEA8DD"/><ellipse cx="800.5" cy="163.5" rx="1.5" ry="1.7" fill="#6A35B8"/><ellipse cx="808.2" cy="159.5" rx="1.4" ry="1.3" fill="#7A2FA8"/><ellipse cx="827.7" cy="160.1" rx="2.0" ry="1.8" fill="#A59FD9"/><ellipse cx="694.3" cy="167.1" rx="1.7" ry="1.3" fill="#A59FD9"/><ellipse cx="701.7" cy="170.6" rx="1.5" ry="1.5" fill="#A59FD9"/><ellipse cx="710.3" cy="169.7" rx="1.8" ry="1.6" fill="#AEA8DD"/><ellipse cx="718.6" cy="170.2" rx="1.6" ry="1.4" fill="#A59FD9"/><ellipse cx="728.8" cy="168.8" rx="2.0" ry="1.7" fill="#A59FD9"/><ellipse cx="736.6" cy="168.1" rx="2.1" ry="1.6" fill="#5E2AA6"/><ellipse cx="745.2" cy="169.6" rx="1.9" ry="2.1" fill="#7A2FA8"/><ellipse cx="755.1" cy="169.6" rx="1.3" ry="1.1" fill="#5E2AA6"/><ellipse cx="762.0" cy="170.7" rx="1.9" ry="1.6" fill="#8E3AB0"/><ellipse cx="774.9" cy="168.0" rx="1.4" ry="1.7" fill="#C0BAE4"/><ellipse cx="781.7" cy="170.4" rx="1.2" ry="1.1" fill="#7A2FA8"/><ellipse cx="792.2" cy="168.6" rx="1.5" ry="1.5" fill="#4E2EB2"/><ellipse cx="797.4" cy="167.4" rx="1.8" ry="1.8" fill="#9C95D5"/><ellipse cx="833.9" cy="170.1" rx="1.5" ry="1.3" fill="#6A35B8"/><ellipse cx="686.8" cy="175.2" rx="1.8" ry="2.2" fill="#9C95D5"/><ellipse cx="696.0" cy="176.4" rx="1.9" ry="2.1" fill="#AEA8DD"/><ellipse cx="704.8" cy="175.8" rx="1.5" ry="1.2" fill="#B8B2E1"/><ellipse cx="711.3" cy="177.8" rx="1.7" ry="1.4" fill="#AEA8DD"/><ellipse cx="722.5" cy="176.2" rx="1.6" ry="1.3" fill="#9C95D5"/><ellipse cx="730.1" cy="178.2" rx="1.9" ry="1.9" fill="#9C95D5"/><ellipse cx="741.5" cy="178.4" rx="1.2" ry="1.4" fill="#4E2EB2"/><ellipse cx="749.4" cy="178.6" rx="1.5" ry="1.3" fill="#8E3AB0"/><ellipse cx="758.0" cy="175.4" rx="1.9" ry="1.5" fill="#6A35B8"/><ellipse cx="764.2" cy="175.4" rx="1.4" ry="1.3" fill="#4E2EB2"/><ellipse cx="775.6" cy="178.8" rx="1.8" ry="1.9" fill="#B8B2E1"/><ellipse cx="784.6" cy="176.2" rx="2.1" ry="1.9" fill="#4E2EB2"/><ellipse cx="793.5" cy="178.9" rx="1.5" ry="1.4" fill="#4E2EB2"/><ellipse cx="799.6" cy="177.7" rx="1.7" ry="1.6" fill="#6A35B8"/><ellipse cx="694.1" cy="184.8" rx="1.4" ry="1.3" fill="#A59FD9"/><ellipse cx="702.9" cy="183.0" rx="1.8" ry="1.8" fill="#B8B2E1"/><ellipse cx="711.2" cy="184.3" rx="1.7" ry="2.1" fill="#9C95D5"/><ellipse cx="720.3" cy="183.4" rx="2.0" ry="1.6" fill="#A59FD9"/><ellipse cx="729.5" cy="185.0" rx="1.8" ry="1.9" fill="#B8B2E1"/><ellipse cx="736.9" cy="183.3" rx="1.4" ry="1.5" fill="#9C95D5"/><ellipse cx="748.4" cy="183.1" rx="1.3" ry="1.2" fill="#6A35B8"/><ellipse cx="753.0" cy="186.7" rx="2.3" ry="1.9" fill="#9C95D5"/><ellipse cx="763.9" cy="184.3" rx="1.3" ry="1.2" fill="#6A35B8"/><ellipse cx="771.8" cy="185.1" rx="1.5" ry="1.2" fill="#AEA8DD"/><ellipse cx="781.1" cy="183.0" rx="2.1" ry="1.6" fill="#6A35B8"/><ellipse cx="791.6" cy="186.0" rx="1.8" ry="1.8" fill="#AEA8DD"/><ellipse cx="797.5" cy="186.4" rx="1.4" ry="1.4" fill="#A59FD9"/><ellipse cx="834.2" cy="183.3" rx="2.0" ry="2.0" fill="#5E2AA6"/><ellipse cx="687.8" cy="193.0" rx="1.8" ry="1.8" fill="#B8B2E1"/><ellipse cx="699.6" cy="190.9" rx="1.6" ry="1.6" fill="#B8B2E1"/><ellipse cx="705.7" cy="191.0" rx="1.8" ry="1.8" fill="#9C95D5"/><ellipse cx="715.7" cy="190.8" rx="2.1" ry="1.6" fill="#C0BAE4"/><ellipse cx="724.7" cy="192.8" rx="1.6" ry="1.8" fill="#C0BAE4"/><ellipse cx="731.1" cy="193.9" rx="1.9" ry="2.3" fill="#A59FD9"/><ellipse cx="742.4" cy="190.8" rx="1.5" ry="1.6" fill="#B8B2E1"/><ellipse cx="749.3" cy="191.1" rx="1.7" ry="1.6" fill="#A59FD9"/><ellipse cx="757.8" cy="193.1" rx="1.6" ry="1.3" fill="#B8B2E1"/><ellipse cx="768.0" cy="192.7" rx="1.9" ry="1.5" fill="#8E3AB0"/><ellipse cx="776.8" cy="192.4" rx="1.6" ry="1.4" fill="#C0BAE4"/><ellipse cx="784.1" cy="194.4" rx="1.7" ry="1.6" fill="#AEA8DD"/><ellipse cx="792.4" cy="190.3" rx="1.7" ry="1.6" fill="#B8B2E1"/><ellipse cx="804.9" cy="192.9" rx="1.6" ry="1.4" fill="#9C95D5"/><ellipse cx="813.1" cy="193.1" rx="1.8" ry="1.7" fill="#9C95D5"/><ellipse cx="830.9" cy="190.6" rx="1.8" ry="1.4" fill="#9C95D5"/><ellipse cx="693.4" cy="201.4" rx="1.8" ry="2.1" fill="#A59FD9"/><ellipse cx="701.6" cy="200.9" rx="1.7" ry="2.2" fill="#AEA8DD"/><ellipse cx="712.5" cy="199.1" rx="1.5" ry="1.6" fill="#A59FD9"/><ellipse cx="721.7" cy="201.4" rx="1.7" ry="1.7" fill="#7A2FA8"/><ellipse cx="730.4" cy="202.1" rx="1.9" ry="1.8" fill="#B8B2E1"/><ellipse cx="735.8" cy="199.3" rx="1.6" ry="1.7" fill="#AEA8DD"/><ellipse cx="745.9" cy="199.9" rx="1.5" ry="1.6" fill="#9C95D5"/><ellipse cx="754.1" cy="199.0" rx="1.8" ry="1.9" fill="#AEA8DD"/><ellipse cx="762.2" cy="202.2" rx="1.8" ry="1.8" fill="#6A35B8"/><ellipse cx="770.9" cy="200.3" rx="2.0" ry="1.8" fill="#B8B2E1"/><ellipse cx="780.7" cy="201.4" rx="1.8" ry="1.7" fill="#A59FD9"/><ellipse cx="790.5" cy="200.7" rx="1.6" ry="1.8" fill="#6A35B8"/><ellipse cx="800.1" cy="201.8" rx="2.4" ry="1.8" fill="#AEA8DD"/><ellipse cx="806.8" cy="201.8" rx="1.7" ry="1.6" fill="#B8B2E1"/><ellipse cx="815.0" cy="199.2" rx="1.8" ry="1.5" fill="#6A35B8"/><ellipse cx="827.6" cy="200.4" rx="1.3" ry="1.4" fill="#7A2FA8"/><ellipse cx="836.6" cy="200.9" rx="1.4" ry="1.8" fill="#B8B2E1"/><ellipse cx="690.9" cy="208.4" rx="1.5" ry="1.4" fill="#A59FD9"/><ellipse cx="699.1" cy="209.4" rx="1.3" ry="1.4" fill="#AEA8DD"/><ellipse cx="705.4" cy="205.9" rx="1.4" ry="1.5" fill="#C0BAE4"/><ellipse cx="716.4" cy="209.5" rx="1.4" ry="1.7" fill="#A59FD9"/><ellipse cx="725.7" cy="207.4" rx="1.7" ry="1.6" fill="#9C95D5"/><ellipse cx="732.0" cy="208.3" rx="2.0" ry="1.9" fill="#C0BAE4"/><ellipse cx="740.5" cy="207.0" rx="2.0" ry="1.8" fill="#B8B2E1"/><ellipse cx="749.6" cy="206.3" rx="1.4" ry="1.3" fill="#5E2AA6"/><ellipse cx="761.0" cy="209.4" rx="1.5" ry="1.7" fill="#6A35B8"/><ellipse cx="770.4" cy="207.7" rx="1.7" ry="1.8" fill="#4E2EB2"/><ellipse cx="778.1" cy="207.2" rx="1.0" ry="1.2" fill="#4E2EB2"/><ellipse cx="787.3" cy="209.0" rx="1.7" ry="1.7" fill="#7A2FA8"/><ellipse cx="796.0" cy="206.2" rx="1.4" ry="1.8" fill="#7A2FA8"/><ellipse cx="803.6" cy="206.3" rx="1.5" ry="1.7" fill="#7A2FA8"/><ellipse cx="812.8" cy="209.4" rx="1.8" ry="1.7" fill="#4E2EB2"/><ellipse cx="823.1" cy="205.7" rx="1.6" ry="1.5" fill="#8E3AB0"/><ellipse cx="830.1" cy="209.6" rx="1.0" ry="1.2" fill="#7A2FA8"/></g>
</g>
<rect x="682.00" y="96.40" width="154.00" height="116.70" fill="none" stroke="#000" stroke-width="2"/>
<defs><clipPath id="c3"><rect x="846.1" y="97.4" width="152.50" height="114.70"/></clipPath></defs>
<g clip-path="url(#c3)">
<rect x="846.10" y="97.40" width="152.50" height="114.70" fill="#E7E5EC"/>
<rect x="846.1" y="97.4" width="152.5" height="114.69999999999999" filter="url(#tx3)"/>
<path d="M939,187 C946,182 954,185 955,190 C953,199 946,205 940,205 C936,199 935,191 939,187 Z" fill="#E8E8EC"/>
<ellipse cx="850" cy="140" rx="4" ry="9" fill="#E6E2EC"/>
<g filter="url(#bl)"><ellipse cx="849.2" cy="98.6" rx="1.9" ry="1.5" fill="#5A1FA0"/><ellipse cx="857.2" cy="97.9" rx="1.5" ry="1.6" fill="#BCA8D8"/><ellipse cx="862.2" cy="97.2" rx="1.2" ry="1.2" fill="#B4A8DA"/><ellipse cx="870.9" cy="99.7" rx="1.8" ry="1.4" fill="#B4A8DA"/><ellipse cx="879.4" cy="99.1" rx="2.1" ry="1.9" fill="#2E1EA5"/><ellipse cx="883.6" cy="101.5" rx="1.6" ry="1.3" fill="#5A1FA0"/><ellipse cx="891.0" cy="100.2" rx="2.0" ry="1.9" fill="#5A1FA0"/><ellipse cx="898.8" cy="101.1" rx="2.2" ry="1.7" fill="#2E1EA5"/><ellipse cx="906.6" cy="98.2" rx="1.7" ry="2.3" fill="#3A20B0"/><ellipse cx="911.8" cy="97.7" rx="1.2" ry="1.3" fill="#B4A8DA"/><ellipse cx="921.0" cy="100.0" rx="2.0" ry="2.1" fill="#3A20B0"/><ellipse cx="926.1" cy="101.5" rx="1.4" ry="1.4" fill="#B4A8DA"/><ellipse cx="934.0" cy="97.5" rx="1.5" ry="1.6" fill="#4A2AB8"/><ellipse cx="941.1" cy="98.6" rx="1.9" ry="2.0" fill="#6E22A0"/><ellipse cx="951.3" cy="101.0" rx="1.3" ry="1.3" fill="#C4B4DE"/><ellipse cx="954.8" cy="100.5" rx="1.7" ry="1.5" fill="#B4A8DA"/><ellipse cx="963.4" cy="101.6" rx="1.9" ry="1.8" fill="#C4B4DE"/><ellipse cx="968.7" cy="99.9" rx="1.5" ry="1.3" fill="#7A2A9E"/><ellipse cx="978.3" cy="99.6" rx="1.4" ry="1.5" fill="#4A2AB8"/><ellipse cx="984.8" cy="99.8" rx="1.8" ry="1.8" fill="#B4A8DA"/><ellipse cx="991.2" cy="97.5" rx="1.6" ry="1.4" fill="#BCA8D8"/><ellipse cx="852.8" cy="104.4" rx="1.4" ry="1.4" fill="#BCA8D8"/><ellipse cx="859.0" cy="106.0" rx="1.5" ry="1.3" fill="#2E1EA5"/><ellipse cx="865.5" cy="104.2" rx="1.7" ry="1.5" fill="#7A2A9E"/><ellipse cx="874.5" cy="107.1" rx="1.2" ry="1.4" fill="#A89CD6"/><ellipse cx="880.6" cy="105.3" rx="1.0" ry="1.2" fill="#C4B4DE"/><ellipse cx="888.2" cy="105.4" rx="1.6" ry="1.4" fill="#6E22A0"/><ellipse cx="895.8" cy="106.7" rx="1.6" ry="1.4" fill="#4A2AB8"/><ellipse cx="902.4" cy="104.5" rx="1.9" ry="2.1" fill="#5A1FA0"/><ellipse cx="907.2" cy="104.6" rx="1.8" ry="1.9" fill="#5A1FA0"/><ellipse cx="915.3" cy="107.1" rx="1.5" ry="1.6" fill="#7A2A9E"/><ellipse cx="925.6" cy="104.7" rx="1.5" ry="1.3" fill="#A89CD6"/><ellipse cx="931.8" cy="107.7" rx="2.0" ry="2.0" fill="#4A2AB8"/><ellipse cx="938.1" cy="107.5" rx="1.6" ry="1.7" fill="#7A2A9E"/><ellipse cx="946.4" cy="103.8" rx="1.8" ry="2.1" fill="#6E22A0"/><ellipse cx="953.1" cy="103.6" rx="2.3" ry="2.1" fill="#6E22A0"/><ellipse cx="961.2" cy="104.2" rx="1.8" ry="2.0" fill="#6E22A0"/><ellipse cx="966.9" cy="106.7" rx="2.0" ry="2.1" fill="#3A20B0"/><ellipse cx="972.8" cy="105.5" rx="1.6" ry="1.9" fill="#3A20B0"/><ellipse cx="981.9" cy="104.4" rx="1.4" ry="1.7" fill="#7A2A9E"/><ellipse cx="987.7" cy="106.7" rx="1.9" ry="2.0" fill="#B4A8DA"/><ellipse cx="993.0" cy="104.9" rx="1.5" ry="1.5" fill="#3A20B0"/><ellipse cx="848.2" cy="112.6" rx="1.8" ry="1.5" fill="#6E22A0"/><ellipse cx="855.0" cy="113.5" rx="1.1" ry="1.1" fill="#BCA8D8"/><ellipse cx="863.6" cy="113.8" rx="1.4" ry="1.2" fill="#B4A8DA"/><ellipse cx="871.9" cy="112.1" rx="1.1" ry="1.5" fill="#5A1FA0"/><ellipse cx="878.5" cy="109.9" rx="1.7" ry="1.8" fill="#6E22A0"/><ellipse cx="884.6" cy="111.7" rx="1.1" ry="1.0" fill="#C4B4DE"/><ellipse cx="892.9" cy="110.2" rx="2.1" ry="1.7" fill="#3A20B0"/><ellipse cx="899.4" cy="112.9" rx="2.1" ry="1.8" fill="#2E1EA5"/><ellipse cx="904.2" cy="113.4" rx="1.3" ry="1.3" fill="#7A2A9E"/><ellipse cx="913.9" cy="113.9" rx="2.2" ry="2.1" fill="#7A2A9E"/><ellipse cx="919.4" cy="113.5" rx="1.2" ry="1.0" fill="#B4A8DA"/><ellipse cx="925.6" cy="112.3" rx="1.9" ry="1.8" fill="#4A2AB8"/><ellipse cx="934.1" cy="110.6" rx="1.1" ry="1.3" fill="#B4A8DA"/><ellipse cx="941.6" cy="110.7" rx="1.3" ry="1.4" fill="#3A20B0"/><ellipse cx="947.4" cy="111.5" rx="1.7" ry="1.7" fill="#5A1FA0"/><ellipse cx="957.1" cy="112.0" rx="1.5" ry="1.5" fill="#5A1FA0"/><ellipse cx="964.1" cy="110.6" rx="1.9" ry="1.6" fill="#5A1FA0"/><ellipse cx="967.8" cy="110.9" rx="1.3" ry="1.5" fill="#B4A8DA"/><ellipse cx="974.8" cy="109.7" rx="1.6" ry="1.8" fill="#2E1EA5"/><ellipse cx="983.4" cy="110.8" rx="1.2" ry="1.2" fill="#B4A8DA"/><ellipse cx="991.7" cy="111.7" rx="1.6" ry="1.6" fill="#A89CD6"/><ellipse cx="995.8" cy="112.0" rx="1.9" ry="2.2" fill="#7A2A9E"/><ellipse cx="849.6" cy="119.2" rx="2.1" ry="2.5" fill="#7A2A9E"/><ellipse cx="857.4" cy="118.1" rx="1.3" ry="1.3" fill="#3A20B0"/><ellipse cx="861.8" cy="118.3" rx="1.5" ry="1.5" fill="#2E1EA5"/><ellipse cx="869.4" cy="116.8" rx="2.6" ry="2.4" fill="#2E1EA5"/><ellipse cx="877.2" cy="117.0" rx="2.2" ry="2.4" fill="#3A20B0"/><ellipse cx="884.5" cy="119.0" rx="1.4" ry="1.2" fill="#2E1EA5"/><ellipse cx="890.8" cy="118.2" rx="1.4" ry="1.3" fill="#3A20B0"/><ellipse cx="898.8" cy="119.4" rx="1.4" ry="1.5" fill="#A89CD6"/><ellipse cx="903.7" cy="116.9" rx="1.5" ry="1.8" fill="#B4A8DA"/><ellipse cx="912.4" cy="120.0" rx="1.7" ry="2.3" fill="#6E22A0"/><ellipse cx="918.1" cy="118.2" rx="1.8" ry="2.3" fill="#5A1FA0"/><ellipse cx="927.6" cy="119.1" rx="2.0" ry="2.1" fill="#3A20B0"/><ellipse cx="935.1" cy="119.9" rx="1.2" ry="1.3" fill="#A89CD6"/><ellipse cx="942.2" cy="116.4" rx="1.6" ry="1.4" fill="#BCA8D8"/><ellipse cx="949.2" cy="118.1" rx="2.5" ry="2.4" fill="#7A2A9E"/><ellipse cx="956.6" cy="119.5" rx="1.8" ry="1.9" fill="#6E22A0"/><ellipse cx="962.3" cy="119.2" rx="1.9" ry="2.6" fill="#7A2A9E"/><ellipse cx="970.6" cy="117.1" rx="1.2" ry="1.2" fill="#B4A8DA"/><ellipse cx="978.1" cy="118.5" rx="1.4" ry="1.4" fill="#A89CD6"/><ellipse cx="984.3" cy="120.1" rx="1.5" ry="1.8" fill="#C4B4DE"/><ellipse cx="991.9" cy="118.9" rx="1.3" ry="1.6" fill="#C4B4DE"/><ellipse cx="995.6" cy="116.4" rx="1.2" ry="1.2" fill="#C4B4DE"/><ellipse cx="850.1" cy="123.9" rx="1.4" ry="1.5" fill="#3A20B0"/><ellipse cx="860.0" cy="124.1" rx="1.2" ry="0.9" fill="#B4A8DA"/><ellipse cx="867.6" cy="123.0" rx="1.5" ry="1.9" fill="#2E1EA5"/><ellipse cx="873.8" cy="126.1" rx="1.8" ry="1.8" fill="#6E22A0"/><ellipse cx="880.8" cy="126.0" rx="1.2" ry="1.2" fill="#C4B4DE"/><ellipse cx="889.4" cy="124.2" rx="1.6" ry="1.8" fill="#BCA8D8"/><ellipse cx="895.6" cy="125.5" rx="1.9" ry="1.8" fill="#B4A8DA"/><ellipse cx="899.8" cy="124.9" rx="1.8" ry="1.7" fill="#5A1FA0"/><ellipse cx="908.2" cy="124.5" rx="1.5" ry="1.2" fill="#C4B4DE"/><ellipse cx="917.5" cy="126.1" rx="1.9" ry="2.0" fill="#6E22A0"/><ellipse cx="924.0" cy="125.5" rx="1.5" ry="2.0" fill="#5A1FA0"/><ellipse cx="929.1" cy="123.0" rx="1.5" ry="1.8" fill="#A89CD6"/><ellipse cx="939.3" cy="125.0" rx="1.4" ry="1.3" fill="#4A2AB8"/><ellipse cx="942.4" cy="126.4" rx="1.8" ry="1.8" fill="#C4B4DE"/><ellipse cx="950.4" cy="122.9" rx="2.0" ry="1.8" fill="#3A20B0"/><ellipse cx="958.5" cy="126.1" rx="1.9" ry="2.1" fill="#7A2A9E"/><ellipse cx="966.0" cy="126.5" rx="1.5" ry="1.6" fill="#BCA8D8"/><ellipse cx="974.6" cy="123.1" rx="1.8" ry="1.6" fill="#6E22A0"/><ellipse cx="979.0" cy="125.7" rx="1.7" ry="1.5" fill="#3A20B0"/><ellipse cx="988.4" cy="125.0" rx="1.0" ry="1.1" fill="#BCA8D8"/><ellipse cx="994.7" cy="125.9" rx="1.5" ry="1.8" fill="#3A20B0"/><ellipse cx="850.9" cy="131.2" rx="1.5" ry="1.4" fill="#3A20B0"/><ellipse cx="858.3" cy="132.6" rx="2.4" ry="1.9" fill="#2E1EA5"/><ellipse cx="866.5" cy="132.1" rx="1.5" ry="1.5" fill="#A89CD6"/><ellipse cx="874.1" cy="131.7" rx="2.0" ry="1.8" fill="#6E22A0"/><ellipse cx="879.6" cy="130.2" rx="1.8" ry="1.4" fill="#BCA8D8"/><ellipse cx="888.4" cy="130.3" rx="1.1" ry="1.0" fill="#BCA8D8"/><ellipse cx="894.1" cy="130.6" rx="1.4" ry="1.5" fill="#B4A8DA"/><ellipse cx="900.6" cy="132.2" rx="1.2" ry="1.2" fill="#B4A8DA"/><ellipse cx="908.7" cy="132.4" rx="1.4" ry="1.8" fill="#C4B4DE"/><ellipse cx="916.7" cy="131.1" rx="2.1" ry="2.1" fill="#3A20B0"/><ellipse cx="923.3" cy="132.4" rx="2.3" ry="2.2" fill="#5A1FA0"/><ellipse cx="929.3" cy="131.5" rx="1.5" ry="1.7" fill="#5A1FA0"/><ellipse cx="936.8" cy="130.7" rx="1.2" ry="0.9" fill="#A89CD6"/><ellipse cx="942.9" cy="131.2" rx="1.7" ry="1.9" fill="#5A1FA0"/><ellipse cx="952.7" cy="129.7" rx="1.1" ry="1.3" fill="#A89CD6"/><ellipse cx="957.3" cy="130.1" rx="1.6" ry="1.5" fill="#BCA8D8"/><ellipse cx="965.5" cy="131.0" rx="2.4" ry="2.0" fill="#3A20B0"/><ellipse cx="974.7" cy="128.8" rx="2.0" ry="2.0" fill="#2E1EA5"/><ellipse cx="980.2" cy="129.3" rx="1.2" ry="1.2" fill="#A89CD6"/><ellipse cx="987.8" cy="130.7" rx="2.2" ry="2.3" fill="#2E1EA5"/><ellipse cx="992.5" cy="131.8" rx="1.8" ry="1.8" fill="#BCA8D8"/><ellipse cx="854.2" cy="135.0" rx="2.2" ry="2.3" fill="#3A20B0"/><ellipse cx="860.5" cy="137.1" rx="1.6" ry="1.5" fill="#BCA8D8"/><ellipse cx="866.0" cy="136.3" rx="1.5" ry="1.8" fill="#C4B4DE"/><ellipse cx="873.9" cy="138.6" rx="2.4" ry="2.2" fill="#3A20B0"/><ellipse cx="883.0" cy="135.3" rx="1.5" ry="1.5" fill="#4A2AB8"/><ellipse cx="889.4" cy="138.8" rx="2.6" ry="2.2" fill="#5A1FA0"/><ellipse cx="896.9" cy="136.4" rx="0.9" ry="1.0" fill="#C4B4DE"/><ellipse cx="903.3" cy="136.4" rx="1.5" ry="2.0" fill="#3A20B0"/><ellipse cx="910.2" cy="135.0" rx="1.8" ry="2.0" fill="#4A2AB8"/><ellipse cx="918.9" cy="134.7" rx="1.5" ry="1.7" fill="#5A1FA0"/><ellipse cx="922.6" cy="135.6" rx="2.3" ry="2.5" fill="#4A2AB8"/><ellipse cx="932.5" cy="137.2" rx="1.2" ry="1.3" fill="#C4B4DE"/><ellipse cx="940.6" cy="137.8" rx="1.6" ry="1.9" fill="#6E22A0"/><ellipse cx="945.0" cy="137.8" rx="1.1" ry="1.1" fill="#B4A8DA"/><ellipse cx="951.4" cy="137.9" rx="1.3" ry="1.2" fill="#B4A8DA"/><ellipse cx="957.7" cy="134.9" rx="1.7" ry="2.1" fill="#2E1EA5"/><ellipse cx="967.2" cy="136.5" rx="1.5" ry="1.2" fill="#6E22A0"/><ellipse cx="976.0" cy="137.8" rx="1.5" ry="1.3" fill="#4A2AB8"/><ellipse cx="982.3" cy="138.6" rx="0.9" ry="1.1" fill="#A89CD6"/><ellipse cx="986.3" cy="137.2" rx="1.6" ry="1.6" fill="#A89CD6"/><ellipse cx="995.0" cy="137.6" rx="1.5" ry="1.5" fill="#2E1EA5"/><ellipse cx="849.7" cy="143.8" rx="2.3" ry="1.9" fill="#6E22A0"/><ellipse cx="858.5" cy="143.9" rx="2.4" ry="1.8" fill="#2E1EA5"/><ellipse cx="865.0" cy="142.3" rx="1.4" ry="1.3" fill="#B4A8DA"/><ellipse cx="871.3" cy="141.3" rx="2.0" ry="2.0" fill="#7A2A9E"/><ellipse cx="879.6" cy="142.7" rx="1.8" ry="1.9" fill="#B4A8DA"/><ellipse cx="888.7" cy="144.6" rx="1.3" ry="1.7" fill="#A89CD6"/><ellipse cx="895.3" cy="141.2" rx="1.4" ry="1.2" fill="#BCA8D8"/><ellipse cx="900.2" cy="142.5" rx="1.3" ry="1.7" fill="#3A20B0"/><ellipse cx="908.8" cy="143.0" rx="1.1" ry="1.2" fill="#BCA8D8"/><ellipse cx="913.1" cy="142.0" rx="1.1" ry="0.9" fill="#BCA8D8"/><ellipse cx="921.7" cy="141.3" rx="2.0" ry="2.2" fill="#3A20B0"/><ellipse cx="928.9" cy="143.3" rx="1.0" ry="1.2" fill="#B4A8DA"/><ellipse cx="935.4" cy="145.0" rx="1.3" ry="1.6" fill="#A89CD6"/><ellipse cx="945.3" cy="144.1" rx="2.0" ry="2.2" fill="#3A20B0"/><ellipse cx="951.6" cy="144.0" rx="1.1" ry="1.0" fill="#C4B4DE"/><ellipse cx="958.7" cy="141.9" rx="2.0" ry="2.0" fill="#7A2A9E"/><ellipse cx="965.4" cy="144.0" rx="2.0" ry="1.7" fill="#3A20B0"/><ellipse cx="970.2" cy="143.4" rx="1.7" ry="1.9" fill="#BCA8D8"/><ellipse cx="978.1" cy="142.7" rx="1.4" ry="1.2" fill="#B4A8DA"/><ellipse cx="988.2" cy="142.4" rx="1.4" ry="1.1" fill="#A89CD6"/><ellipse cx="992.1" cy="142.5" rx="1.2" ry="1.5" fill="#4A2AB8"/><ellipse cx="849.9" cy="149.8" rx="1.1" ry="1.2" fill="#B4A8DA"/><ellipse cx="854.4" cy="148.3" rx="1.3" ry="1.3" fill="#4A2AB8"/><ellipse cx="865.0" cy="147.8" rx="1.3" ry="1.4" fill="#BCA8D8"/><ellipse cx="871.6" cy="148.8" rx="1.3" ry="1.6" fill="#7A2A9E"/><ellipse cx="876.7" cy="148.9" rx="1.7" ry="1.6" fill="#B4A8DA"/><ellipse cx="886.3" cy="148.2" rx="1.4" ry="1.7" fill="#BCA8D8"/><ellipse cx="893.3" cy="148.2" rx="1.5" ry="1.8" fill="#6E22A0"/><ellipse cx="898.9" cy="149.0" rx="2.1" ry="1.8" fill="#2E1EA5"/><ellipse cx="904.7" cy="148.4" rx="2.2" ry="1.9" fill="#2E1EA5"/><ellipse cx="911.9" cy="150.5" rx="1.7" ry="1.4" fill="#6E22A0"/><ellipse cx="919.1" cy="147.9" rx="1.1" ry="1.1" fill="#B4A8DA"/><ellipse cx="929.3" cy="150.6" rx="1.7" ry="1.8" fill="#6E22A0"/><ellipse cx="935.7" cy="147.5" rx="1.2" ry="1.1" fill="#C4B4DE"/><ellipse cx="942.2" cy="149.4" rx="1.7" ry="2.1" fill="#6E22A0"/><ellipse cx="949.8" cy="150.1" rx="1.6" ry="1.7" fill="#5A1FA0"/><ellipse cx="956.8" cy="151.0" rx="1.4" ry="1.6" fill="#7A2A9E"/><ellipse cx="964.6" cy="147.5" rx="1.9" ry="1.8" fill="#3A20B0"/><ellipse cx="969.1" cy="148.6" rx="1.8" ry="1.4" fill="#3A20B0"/><ellipse cx="979.0" cy="148.2" rx="2.3" ry="2.2" fill="#4A2AB8"/><ellipse cx="982.9" cy="151.2" rx="1.8" ry="1.5" fill="#6E22A0"/><ellipse cx="990.0" cy="151.4" rx="1.5" ry="1.6" fill="#6E22A0"/><ellipse cx="998.6" cy="150.6" rx="1.6" ry="1.5" fill="#3A20B0"/><ellipse cx="851.7" cy="155.1" rx="1.7" ry="1.3" fill="#4A2AB8"/><ellipse cx="857.0" cy="155.7" rx="1.4" ry="1.3" fill="#3A20B0"/><ellipse cx="867.1" cy="156.9" rx="2.2" ry="2.2" fill="#4A2AB8"/><ellipse cx="871.8" cy="157.6" rx="1.9" ry="2.0" fill="#3A20B0"/><ellipse cx="881.7" cy="153.7" rx="1.6" ry="1.7" fill="#B4A8DA"/><ellipse cx="888.5" cy="157.0" rx="1.3" ry="1.4" fill="#A89CD6"/><ellipse cx="894.9" cy="155.1" rx="1.3" ry="1.7" fill="#4A2AB8"/><ellipse cx="901.5" cy="154.2" rx="1.4" ry="1.7" fill="#BCA8D8"/><ellipse cx="907.2" cy="157.0" rx="1.5" ry="1.6" fill="#A89CD6"/><ellipse cx="916.7" cy="153.5" rx="2.4" ry="2.3" fill="#7A2A9E"/><ellipse cx="922.3" cy="154.9" rx="1.3" ry="1.1" fill="#C4B4DE"/><ellipse cx="929.1" cy="154.0" rx="1.5" ry="1.6" fill="#BCA8D8"/><ellipse cx="937.8" cy="154.0" rx="1.9" ry="2.2" fill="#2E1EA5"/><ellipse cx="945.5" cy="156.1" rx="1.7" ry="1.5" fill="#C4B4DE"/><ellipse cx="950.2" cy="156.5" rx="2.2" ry="2.2" fill="#2E1EA5"/><ellipse cx="959.2" cy="155.2" rx="2.3" ry="2.1" fill="#7A2A9E"/><ellipse cx="965.7" cy="156.5" rx="1.4" ry="1.4" fill="#B4A8DA"/><ellipse cx="970.7" cy="153.7" rx="2.2" ry="1.9" fill="#7A2A9E"/><ellipse cx="977.1" cy="155.8" rx="1.2" ry="1.2" fill="#BCA8D8"/><ellipse cx="984.6" cy="154.5" rx="1.7" ry="1.8" fill="#2E1EA5"/><ellipse cx="991.4" cy="153.9" rx="1.1" ry="1.1" fill="#B4A8DA"/><ellipse cx="850.0" cy="161.8" rx="2.0" ry="2.0" fill="#3A20B0"/><ellipse cx="855.6" cy="159.9" rx="1.7" ry="1.5" fill="#B4A8DA"/><ellipse cx="864.5" cy="160.5" rx="1.7" ry="1.5" fill="#A89CD6"/><ellipse cx="870.8" cy="159.8" rx="1.8" ry="2.1" fill="#3A20B0"/><ellipse cx="877.4" cy="162.8" rx="1.6" ry="1.5" fill="#B4A8DA"/><ellipse cx="885.6" cy="159.7" rx="1.2" ry="1.0" fill="#B4A8DA"/><ellipse cx="891.9" cy="161.5" rx="1.3" ry="1.2" fill="#7A2A9E"/><ellipse cx="900.1" cy="160.6" rx="1.7" ry="1.3" fill="#C4B4DE"/><ellipse cx="906.3" cy="162.6" rx="1.4" ry="1.3" fill="#2E1EA5"/><ellipse cx="915.2" cy="162.7" rx="1.3" ry="1.2" fill="#BCA8D8"/><ellipse cx="922.6" cy="161.1" rx="1.6" ry="2.1" fill="#5A1FA0"/><ellipse cx="930.1" cy="161.7" rx="2.2" ry="2.3" fill="#3A20B0"/><ellipse cx="936.4" cy="161.8" rx="1.2" ry="1.4" fill="#3A20B0"/><ellipse cx="942.6" cy="160.8" rx="1.5" ry="1.5" fill="#B4A8DA"/><ellipse cx="949.4" cy="162.8" rx="2.3" ry="1.9" fill="#7A2A9E"/><ellipse cx="956.7" cy="162.5" rx="2.4" ry="2.2" fill="#3A20B0"/><ellipse cx="962.1" cy="162.7" rx="1.5" ry="1.5" fill="#7A2A9E"/><ellipse cx="970.8" cy="160.1" rx="2.2" ry="1.7" fill="#3A20B0"/><ellipse cx="980.0" cy="162.6" rx="1.2" ry="1.4" fill="#7A2A9E"/><ellipse cx="986.7" cy="160.4" rx="1.9" ry="2.3" fill="#6E22A0"/><ellipse cx="992.2" cy="162.1" rx="2.4" ry="2.1" fill="#7A2A9E"/><ellipse cx="848.3" cy="169.5" rx="1.7" ry="1.3" fill="#C4B4DE"/><ellipse cx="855.5" cy="170.1" rx="1.5" ry="1.5" fill="#4A2AB8"/><ellipse cx="863.8" cy="170.3" rx="1.4" ry="1.8" fill="#4A2AB8"/><ellipse cx="870.3" cy="166.8" rx="2.2" ry="1.8" fill="#3A20B0"/><ellipse cx="879.3" cy="168.6" rx="1.1" ry="1.3" fill="#BCA8D8"/><ellipse cx="887.2" cy="167.3" rx="1.1" ry="1.2" fill="#C4B4DE"/><ellipse cx="894.1" cy="167.7" rx="1.7" ry="1.4" fill="#B4A8DA"/><ellipse cx="901.1" cy="166.7" rx="1.6" ry="1.5" fill="#5A1FA0"/><ellipse cx="908.0" cy="166.5" rx="1.7" ry="2.2" fill="#5A1FA0"/><ellipse cx="912.2" cy="167.3" rx="1.8" ry="1.9" fill="#A89CD6"/><ellipse cx="922.7" cy="168.0" rx="1.9" ry="2.0" fill="#7A2A9E"/><ellipse cx="926.7" cy="166.4" rx="1.8" ry="2.1" fill="#3A20B0"/><ellipse cx="935.4" cy="168.1" rx="1.8" ry="1.9" fill="#6E22A0"/><ellipse cx="941.5" cy="168.7" rx="1.2" ry="1.4" fill="#C4B4DE"/><ellipse cx="950.2" cy="167.5" rx="1.3" ry="1.6" fill="#A89CD6"/><ellipse cx="956.9" cy="166.8" rx="2.3" ry="2.5" fill="#5A1FA0"/><ellipse cx="964.0" cy="168.4" rx="1.9" ry="1.7" fill="#4A2AB8"/><ellipse cx="968.6" cy="168.2" rx="1.2" ry="1.1" fill="#BCA8D8"/><ellipse cx="975.6" cy="167.5" rx="1.2" ry="1.0" fill="#C4B4DE"/><ellipse cx="984.2" cy="167.4" rx="1.5" ry="1.1" fill="#B4A8DA"/><ellipse cx="993.3" cy="168.6" rx="1.9" ry="1.8" fill="#4A2AB8"/><ellipse cx="854.4" cy="172.7" rx="2.0" ry="1.8" fill="#3A20B0"/><ellipse cx="859.8" cy="176.1" rx="1.6" ry="1.4" fill="#B4A8DA"/><ellipse cx="865.3" cy="175.0" rx="1.2" ry="1.2" fill="#C4B4DE"/><ellipse cx="872.8" cy="173.1" rx="0.9" ry="1.0" fill="#A89CD6"/><ellipse cx="882.1" cy="175.5" rx="1.7" ry="1.4" fill="#5A1FA0"/><ellipse cx="886.8" cy="176.0" rx="1.7" ry="1.7" fill="#A89CD6"/><ellipse cx="894.3" cy="175.9" rx="1.1" ry="1.5" fill="#A89CD6"/><ellipse cx="904.0" cy="176.1" rx="1.4" ry="1.5" fill="#6E22A0"/><ellipse cx="911.7" cy="173.7" rx="1.6" ry="2.0" fill="#B4A8DA"/><ellipse cx="916.0" cy="174.1" rx="1.3" ry="1.4" fill="#7A2A9E"/><ellipse cx="922.9" cy="174.4" rx="2.3" ry="2.2" fill="#6E22A0"/><ellipse cx="930.7" cy="173.4" rx="1.7" ry="1.7" fill="#6E22A0"/><ellipse cx="936.0" cy="175.3" rx="1.2" ry="1.0" fill="#C4B4DE"/><ellipse cx="945.9" cy="175.9" rx="1.7" ry="1.4" fill="#C4B4DE"/><ellipse cx="953.6" cy="175.4" rx="2.1" ry="2.3" fill="#7A2A9E"/><ellipse cx="959.7" cy="172.9" rx="1.5" ry="1.6" fill="#A89CD6"/><ellipse cx="967.9" cy="175.7" rx="1.7" ry="1.4" fill="#7A2A9E"/><ellipse cx="973.6" cy="175.0" rx="2.4" ry="1.8" fill="#2E1EA5"/><ellipse cx="979.7" cy="174.3" rx="1.5" ry="1.8" fill="#5A1FA0"/><ellipse cx="988.9" cy="173.6" rx="1.2" ry="1.3" fill="#A89CD6"/><ellipse cx="996.0" cy="173.3" rx="1.5" ry="1.5" fill="#6E22A0"/><ellipse cx="849.9" cy="179.7" rx="1.4" ry="1.5" fill="#7A2A9E"/><ellipse cx="856.3" cy="179.0" rx="1.3" ry="1.5" fill="#2E1EA5"/><ellipse cx="863.4" cy="182.4" rx="1.4" ry="1.8" fill="#A89CD6"/><ellipse cx="867.5" cy="180.6" rx="1.2" ry="1.2" fill="#C4B4DE"/><ellipse cx="877.0" cy="182.7" rx="1.2" ry="1.4" fill="#3A20B0"/><ellipse cx="884.5" cy="179.2" rx="1.6" ry="1.6" fill="#3A20B0"/><ellipse cx="892.9" cy="180.0" rx="1.2" ry="1.2" fill="#C4B4DE"/><ellipse cx="897.8" cy="178.5" rx="1.3" ry="1.3" fill="#B4A8DA"/><ellipse cx="905.5" cy="181.3" rx="1.6" ry="1.9" fill="#4A2AB8"/><ellipse cx="913.4" cy="181.0" rx="1.8" ry="1.8" fill="#3A20B0"/><ellipse cx="921.1" cy="182.2" rx="1.5" ry="1.2" fill="#B4A8DA"/><ellipse cx="926.9" cy="180.6" rx="1.6" ry="1.7" fill="#A89CD6"/><ellipse cx="932.0" cy="180.1" rx="2.0" ry="2.0" fill="#BCA8D8"/><ellipse cx="941.0" cy="179.8" rx="2.0" ry="2.4" fill="#5A1FA0"/><ellipse cx="948.1" cy="178.4" rx="1.8" ry="1.5" fill="#5A1FA0"/><ellipse cx="955.2" cy="179.1" rx="1.9" ry="2.0" fill="#C4B4DE"/><ellipse cx="961.8" cy="182.1" rx="2.1" ry="2.3" fill="#6E22A0"/><ellipse cx="969.3" cy="180.3" rx="1.3" ry="1.4" fill="#A89CD6"/><ellipse cx="977.6" cy="181.1" rx="1.8" ry="2.0" fill="#7A2A9E"/><ellipse cx="982.5" cy="178.6" rx="1.2" ry="1.1" fill="#BCA8D8"/><ellipse cx="989.6" cy="182.5" rx="1.7" ry="1.7" fill="#C4B4DE"/><ellipse cx="996.3" cy="181.3" rx="2.2" ry="1.9" fill="#7A2A9E"/><ellipse cx="851.9" cy="187.7" rx="2.3" ry="1.9" fill="#4A2AB8"/><ellipse cx="862.1" cy="188.4" rx="1.4" ry="1.2" fill="#4A2AB8"/><ellipse cx="869.2" cy="188.6" rx="2.1" ry="1.6" fill="#6E22A0"/><ellipse cx="873.8" cy="188.4" rx="1.6" ry="1.6" fill="#B4A8DA"/><ellipse cx="883.3" cy="185.8" rx="1.9" ry="1.6" fill="#2E1EA5"/><ellipse cx="890.7" cy="185.6" rx="1.9" ry="1.8" fill="#BCA8D8"/><ellipse cx="896.2" cy="188.4" rx="1.7" ry="1.6" fill="#3A20B0"/><ellipse cx="901.2" cy="186.4" rx="1.9" ry="1.8" fill="#C4B4DE"/><ellipse cx="908.7" cy="187.7" rx="2.5" ry="2.4" fill="#6E22A0"/><ellipse cx="917.2" cy="188.8" rx="2.0" ry="1.9" fill="#3A20B0"/><ellipse cx="922.9" cy="188.6" rx="2.0" ry="2.3" fill="#3A20B0"/><ellipse cx="933.6" cy="186.4" rx="1.9" ry="2.0" fill="#5A1FA0"/><ellipse cx="940.6" cy="186.7" rx="2.0" ry="2.3" fill="#7A2A9E"/><ellipse cx="953.3" cy="186.0" rx="1.6" ry="1.5" fill="#B4A8DA"/><ellipse cx="958.6" cy="185.0" rx="1.6" ry="1.5" fill="#7A2A9E"/><ellipse cx="967.8" cy="188.7" rx="1.4" ry="1.0" fill="#A89CD6"/><ellipse cx="973.2" cy="188.6" rx="1.4" ry="1.3" fill="#C4B4DE"/><ellipse cx="979.8" cy="187.2" rx="1.3" ry="1.0" fill="#B4A8DA"/><ellipse cx="990.0" cy="186.9" rx="1.8" ry="1.5" fill="#6E22A0"/><ellipse cx="996.9" cy="189.0" rx="2.2" ry="2.1" fill="#7A2A9E"/><ellipse cx="852.2" cy="191.0" rx="2.0" ry="1.7" fill="#6E22A0"/><ellipse cx="862.4" cy="193.3" rx="1.4" ry="1.4" fill="#5A1FA0"/><ellipse cx="866.9" cy="193.5" rx="1.3" ry="1.1" fill="#B4A8DA"/><ellipse cx="875.6" cy="193.0" rx="1.0" ry="1.4" fill="#A89CD6"/><ellipse cx="880.5" cy="194.9" rx="2.2" ry="2.1" fill="#3A20B0"/><ellipse cx="889.7" cy="191.1" rx="1.4" ry="1.5" fill="#A89CD6"/><ellipse cx="897.3" cy="191.7" rx="2.2" ry="1.9" fill="#3A20B0"/><ellipse cx="902.1" cy="194.2" rx="1.4" ry="1.5" fill="#6E22A0"/><ellipse cx="910.3" cy="194.9" rx="1.7" ry="1.7" fill="#C4B4DE"/><ellipse cx="920.3" cy="194.2" rx="1.0" ry="1.0" fill="#A89CD6"/><ellipse cx="925.4" cy="194.2" rx="1.6" ry="1.5" fill="#6E22A0"/><ellipse cx="933.1" cy="191.3" rx="1.6" ry="1.3" fill="#A89CD6"/><ellipse cx="955.2" cy="191.2" rx="2.1" ry="2.1" fill="#3A20B0"/><ellipse cx="959.0" cy="193.1" rx="1.6" ry="1.5" fill="#2E1EA5"/><ellipse cx="967.7" cy="191.2" rx="1.2" ry="1.4" fill="#6E22A0"/><ellipse cx="975.7" cy="191.0" rx="1.5" ry="1.5" fill="#7A2A9E"/><ellipse cx="980.4" cy="192.3" rx="2.0" ry="2.0" fill="#4A2AB8"/><ellipse cx="990.6" cy="192.7" rx="1.7" ry="1.4" fill="#B4A8DA"/><ellipse cx="994.5" cy="194.1" rx="1.4" ry="1.3" fill="#B4A8DA"/><ellipse cx="852.0" cy="198.1" rx="1.3" ry="1.5" fill="#5A1FA0"/><ellipse cx="862.5" cy="200.5" rx="2.0" ry="1.9" fill="#4A2AB8"/><ellipse cx="869.5" cy="199.5" rx="1.7" ry="1.7" fill="#2E1EA5"/><ellipse cx="875.2" cy="199.8" rx="1.7" ry="1.6" fill="#5A1FA0"/><ellipse cx="881.9" cy="199.8" rx="1.7" ry="1.7" fill="#5A1FA0"/><ellipse cx="890.6" cy="199.4" rx="1.9" ry="1.7" fill="#4A2AB8"/><ellipse cx="897.9" cy="197.3" rx="1.8" ry="2.0" fill="#5A1FA0"/><ellipse cx="902.9" cy="198.5" rx="1.8" ry="1.8" fill="#5A1FA0"/><ellipse cx="911.9" cy="200.0" rx="1.4" ry="1.3" fill="#BCA8D8"/><ellipse cx="917.1" cy="197.3" rx="1.5" ry="1.5" fill="#BCA8D8"/><ellipse cx="923.1" cy="200.7" rx="1.0" ry="1.2" fill="#C4B4DE"/><ellipse cx="929.9" cy="197.7" rx="2.1" ry="2.1" fill="#6E22A0"/><ellipse cx="938.2" cy="201.5" rx="1.4" ry="1.8" fill="#2E1EA5"/><ellipse cx="959.3" cy="199.4" rx="1.7" ry="1.5" fill="#BCA8D8"/><ellipse cx="968.7" cy="200.4" rx="1.7" ry="1.7" fill="#5A1FA0"/><ellipse cx="973.2" cy="197.3" rx="1.1" ry="1.4" fill="#B4A8DA"/><ellipse cx="983.4" cy="198.2" rx="1.9" ry="2.2" fill="#4A2AB8"/><ellipse cx="988.8" cy="200.9" rx="1.3" ry="1.4" fill="#6E22A0"/><ellipse cx="995.5" cy="198.8" rx="1.2" ry="1.3" fill="#A89CD6"/><ellipse cx="850.4" cy="204.5" rx="1.3" ry="1.2" fill="#BCA8D8"/><ellipse cx="860.3" cy="203.7" rx="1.7" ry="1.9" fill="#2E1EA5"/><ellipse cx="865.2" cy="207.6" rx="2.4" ry="2.4" fill="#3A20B0"/><ellipse cx="874.3" cy="207.3" rx="1.7" ry="2.2" fill="#2E1EA5"/><ellipse cx="878.1" cy="203.4" rx="1.7" ry="1.6" fill="#6E22A0"/><ellipse cx="888.7" cy="204.2" rx="1.3" ry="1.5" fill="#6E22A0"/><ellipse cx="892.5" cy="205.1" rx="1.1" ry="1.4" fill="#BCA8D8"/><ellipse cx="900.2" cy="203.9" rx="1.2" ry="1.0" fill="#BCA8D8"/><ellipse cx="906.4" cy="203.5" rx="1.2" ry="1.4" fill="#B4A8DA"/><ellipse cx="915.7" cy="205.4" rx="1.6" ry="1.3" fill="#2E1EA5"/><ellipse cx="923.9" cy="207.0" rx="1.8" ry="1.6" fill="#6E22A0"/><ellipse cx="930.0" cy="205.6" rx="1.6" ry="1.6" fill="#2E1EA5"/><ellipse cx="934.9" cy="207.0" rx="1.7" ry="1.9" fill="#7A2A9E"/><ellipse cx="942.6" cy="205.8" rx="1.7" ry="1.9" fill="#6E22A0"/><ellipse cx="958.7" cy="204.8" rx="1.8" ry="1.6" fill="#5A1FA0"/><ellipse cx="962.8" cy="207.5" rx="1.6" ry="1.6" fill="#4A2AB8"/><ellipse cx="972.8" cy="204.6" rx="1.9" ry="1.4" fill="#B4A8DA"/><ellipse cx="979.4" cy="204.4" rx="1.6" ry="1.6" fill="#7A2A9E"/><ellipse cx="985.2" cy="206.2" rx="1.1" ry="1.1" fill="#B4A8DA"/><ellipse cx="993.6" cy="203.9" rx="1.8" ry="2.1" fill="#5A1FA0"/><ellipse cx="847.4" cy="213.9" rx="1.2" ry="1.2" fill="#BCA8D8"/><ellipse cx="854.9" cy="211.0" rx="1.6" ry="1.3" fill="#C4B4DE"/><ellipse cx="863.8" cy="211.7" rx="1.9" ry="1.5" fill="#C4B4DE"/><ellipse cx="869.0" cy="213.9" rx="1.9" ry="1.8" fill="#2E1EA5"/><ellipse cx="875.9" cy="213.9" rx="1.6" ry="1.7" fill="#4A2AB8"/><ellipse cx="885.4" cy="213.2" rx="1.1" ry="1.3" fill="#C4B4DE"/><ellipse cx="892.0" cy="211.5" rx="1.5" ry="2.0" fill="#2E1EA5"/><ellipse cx="897.1" cy="213.8" rx="1.4" ry="1.1" fill="#B4A8DA"/><ellipse cx="904.5" cy="212.5" rx="2.1" ry="1.8" fill="#6E22A0"/><ellipse cx="914.0" cy="213.5" rx="1.9" ry="1.9" fill="#2E1EA5"/><ellipse cx="918.1" cy="213.1" rx="2.2" ry="2.3" fill="#3A20B0"/><ellipse cx="926.5" cy="212.6" rx="1.4" ry="1.5" fill="#B4A8DA"/><ellipse cx="935.7" cy="211.1" rx="1.1" ry="1.2" fill="#C4B4DE"/><ellipse cx="941.4" cy="210.5" rx="1.6" ry="1.5" fill="#4A2AB8"/><ellipse cx="946.4" cy="214.0" rx="1.1" ry="1.1" fill="#C4B4DE"/><ellipse cx="955.4" cy="210.6" rx="1.5" ry="1.7" fill="#BCA8D8"/><ellipse cx="960.9" cy="211.2" rx="2.0" ry="2.1" fill="#3A20B0"/><ellipse cx="968.3" cy="213.2" rx="1.8" ry="1.4" fill="#A89CD6"/><ellipse cx="975.4" cy="210.0" rx="1.4" ry="1.3" fill="#3A20B0"/><ellipse cx="985.5" cy="210.6" rx="1.9" ry="1.9" fill="#7A2A9E"/><ellipse cx="989.0" cy="213.0" rx="2.4" ry="1.8" fill="#6E22A0"/><ellipse cx="995.8" cy="213.0" rx="1.6" ry="1.4" fill="#4A2AB8"/></g>
</g>
<rect x="845.10" y="96.40" width="154.50" height="116.70" fill="none" stroke="#000" stroke-width="2"/>
<rect x="979.20" y="196.30" width="9.00" height="2.60" fill="#000"/>
<text x="984" y="209" font-size="7.5" font-weight="bold" text-anchor="middle" fill="#000">50μm</text>
<line x1="1090.3" y1="48.1" x2="1090.3" y2="123.8" stroke="#000" stroke-width="2"/>
<line x1="1085.5" y1="48.1" x2="1090.3" y2="48.1" stroke="#000" stroke-width="2"/>
<text x="1084.5" y="52.800000000000004" font-size="13" font-weight="bold" text-anchor="end" fill="#000">200</text>
<line x1="1085.5" y1="67.03" x2="1090.3" y2="67.03" stroke="#000" stroke-width="2"/>
<text x="1084.5" y="71.73" font-size="13" font-weight="bold" text-anchor="end" fill="#000">180</text>
<line x1="1085.5" y1="85.96000000000001" x2="1090.3" y2="85.96000000000001" stroke="#000" stroke-width="2"/>
<text x="1084.5" y="90.66000000000001" font-size="13" font-weight="bold" text-anchor="end" fill="#000">160</text>
<line x1="1085.5" y1="104.89" x2="1090.3" y2="104.89" stroke="#000" stroke-width="2"/>
<text x="1084.5" y="109.59" font-size="13" font-weight="bold" text-anchor="end" fill="#000">140</text>
<line x1="1085.5" y1="123.82" x2="1093" y2="123.82" stroke="#000" stroke-width="2"/>
<text x="1084.5" y="128.51999999999998" font-size="13" font-weight="bold" text-anchor="end" fill="#000">120</text>
<line x1="1090.3" y1="138.8" x2="1090.3" y2="215.5" stroke="#000" stroke-width="2"/>
<line x1="1085.5" y1="138.8" x2="1093" y2="138.8" stroke="#000" stroke-width="2"/>
<text x="1084.5" y="143.5" font-size="13" font-weight="bold" text-anchor="end" fill="#000">3</text>
<line x1="1085.5" y1="164.03" x2="1090.3" y2="164.03" stroke="#000" stroke-width="2"/>
<text x="1084.5" y="168.73" font-size="13" font-weight="bold" text-anchor="end" fill="#000">2</text>
<line x1="1085.5" y1="189.26000000000002" x2="1090.3" y2="189.26000000000002" stroke="#000" stroke-width="2"/>
<text x="1084.5" y="193.96" font-size="13" font-weight="bold" text-anchor="end" fill="#000">1</text>
<line x1="1085.5" y1="214.49" x2="1090.3" y2="214.49" stroke="#000" stroke-width="2"/>
<text x="1084.5" y="219.19" font-size="13" font-weight="bold" text-anchor="end" fill="#000">0</text>
<line x1="1089.3" y1="214.5" x2="1200" y2="214.5" stroke="#000" stroke-width="2"/>
<line x1="1108.5" y1="214.5" x2="1108.5" y2="219.6" stroke="#000" stroke-width="2"/>
<line x1="1144.8" y1="214.5" x2="1144.8" y2="219.6" stroke="#000" stroke-width="2"/>
<line x1="1181.4" y1="214.5" x2="1181.4" y2="219.6" stroke="#000" stroke-width="2"/>
<rect x="1096.45" y="189.55" width="23.80" height="25.45" fill="#E3AE1F" stroke="#000" stroke-width="2.3"/>
<rect x="1132.95" y="160.15" width="23.70" height="54.85" fill="#F27E7E" stroke="#000" stroke-width="2.3"/>
<rect x="1168.00" y="138.90" width="26.80" height="76.10" fill="#B51434"/>
<line x1="1169.2" y1="138.9" x2="1169.2" y2="215" stroke="#000" stroke-width="2.4"/>
<line x1="1193.6" y1="138.9" x2="1193.6" y2="215" stroke="#000" stroke-width="2.4"/>
<line x1="1168" y1="213.8" x2="1194.8" y2="213.8" stroke="#000" stroke-width="2.4"/>
<rect x="1168.00" y="77.80" width="26.80" height="46.00" fill="#B51434"/>
<line x1="1169.2" y1="77.8" x2="1169.2" y2="123.8" stroke="#000" stroke-width="2.4"/>
<line x1="1193.6" y1="77.8" x2="1193.6" y2="123.8" stroke="#000" stroke-width="2.4"/>
<line x1="1168" y1="79.0" x2="1194.8" y2="79.0" stroke="#000" stroke-width="2.4"/>
<rect x="1098.50" y="178.10" width="6.00" height="6.00" fill="#E3AE1F" stroke="#000" stroke-width="1.9"/>
<rect x="1112.50" y="176.40" width="6.00" height="6.00" fill="#E3AE1F" stroke="#000" stroke-width="1.9"/>
<rect x="1105.30" y="185.90" width="6.00" height="6.00" fill="#E3AE1F" stroke="#000" stroke-width="1.9"/>
<rect x="1100.20" y="195.60" width="6.00" height="6.00" fill="#E3AE1F" stroke="#000" stroke-width="1.9"/>
<rect x="1110.40" y="195.60" width="6.00" height="6.00" fill="#E3AE1F" stroke="#000" stroke-width="1.9"/>
<rect x="1141.90" y="140.80" width="6.00" height="6.00" fill="#F27E7E" stroke="#000" stroke-width="1.9"/>
<rect x="1136.70" y="145.75" width="6.00" height="6.00" fill="#F27E7E" stroke="#000" stroke-width="1.9"/>
<rect x="1146.90" y="152.50" width="6.00" height="6.00" fill="#F27E7E" stroke="#000" stroke-width="1.9"/>
<rect x="1146.90" y="167.30" width="6.00" height="6.00" fill="#F27E7E" stroke="#000" stroke-width="1.9"/>
<rect x="1136.70" y="176.40" width="6.00" height="6.00" fill="#F27E7E" stroke="#000" stroke-width="1.9"/>
<circle cx="1186.5" cy="56.4" r="3.00" fill="#B51434" stroke="#000" stroke-width="1.8"/>
<circle cx="1176.2" cy="64" r="3.00" fill="#B51434" stroke="#000" stroke-width="1.8"/>
<circle cx="1181.4" cy="80.3" r="3.00" fill="#B51434" stroke="#000" stroke-width="1.8"/>
<circle cx="1176.2" cy="98.5" r="3.00" fill="#B51434" stroke="#000" stroke-width="1.8"/>
<circle cx="1186.5" cy="93.5" r="3.00" fill="#B51434" stroke="#000" stroke-width="1.8"/>
<line x1="1108.5" y1="184.9" x2="1108.5" y2="193.1" stroke="#000" stroke-width="2"/>
<line x1="1101.65" y1="184.9" x2="1115.35" y2="184.9" stroke="#000" stroke-width="2"/>
<line x1="1101.65" y1="193.1" x2="1115.35" y2="193.1" stroke="#000" stroke-width="2"/>
<line x1="1144.9" y1="152.3" x2="1144.9" y2="166.5" stroke="#000" stroke-width="2"/>
<line x1="1137.9" y1="152.3" x2="1151.9" y2="152.3" stroke="#000" stroke-width="2"/>
<line x1="1137.9" y1="166.5" x2="1151.9" y2="166.5" stroke="#000" stroke-width="2"/>
<line x1="1181.4" y1="70.5" x2="1181.4" y2="86.9" stroke="#000" stroke-width="1.8"/>
<line x1="1175.1000000000001" y1="70.5" x2="1187.7" y2="70.5" stroke="#000" stroke-width="1.8"/>
<line x1="1175.1000000000001" y1="86.9" x2="1187.7" y2="86.9" stroke="#000" stroke-width="1.8"/>
<polyline points="1110.3,69.7 1110.3,58.3 1145.3,58.3 1145.3,69.7" fill="none" stroke="#777" stroke-width="1.2"/>
<polyline points="1142.5,40 1142.5,28.7 1186.3,28.7 1186.3,40" fill="none" stroke="#777" stroke-width="1.2"/>
<path d="M1120.90,48.80L1120.90,44.00M1120.90,48.80L1125.47,47.32M1120.90,48.80L1123.72,52.68M1120.90,48.80L1118.08,52.68M1120.90,48.80L1116.33,47.32" stroke="#000" stroke-width="1.75" fill="none"/>
<path d="M1131.70,48.80L1131.70,44.00M1131.70,48.80L1136.27,47.32M1131.70,48.80L1134.52,52.68M1131.70,48.80L1128.88,52.68M1131.70,48.80L1127.13,47.32" stroke="#000" stroke-width="1.75" fill="none"/>
<path d="M1156.30,18.80L1156.30,14.00M1156.30,18.80L1160.87,17.32M1156.30,18.80L1159.12,22.68M1156.30,18.80L1153.48,22.68M1156.30,18.80L1151.73,17.32" stroke="#000" stroke-width="1.75" fill="none"/>
<path d="M1167.10,18.80L1167.10,14.00M1167.10,18.80L1171.67,17.32M1167.10,18.80L1169.92,22.68M1167.10,18.80L1164.28,22.68M1167.10,18.80L1162.53,17.32" stroke="#000" stroke-width="1.75" fill="none"/>
<path d="M1177.90,18.80L1177.90,14.00M1177.90,18.80L1182.47,17.32M1177.90,18.80L1180.72,22.68M1177.90,18.80L1175.08,22.68M1177.90,18.80L1173.33,17.32" stroke="#000" stroke-width="1.75" fill="none"/>
<text x="1035.3" y="131.9" font-size="18.6" font-weight="bold" text-anchor="middle" transform="rotate(-90 1035.3 131.9)" fill="#000">PCNA</text>
<text x="1055.5" y="128.9" font-size="18.5" font-weight="bold" text-anchor="middle" transform="rotate(-90 1055.5 128.9)" fill="#000">(fold-change)</text>
<text x="1112.5" y="231.5" font-size="16.8" text-anchor="end" transform="rotate(-45 1112.5 231.5)" fill="#000">Ctrl</text>
<text x="1149" y="231" font-size="16.8" text-anchor="end" transform="rotate(-45 1149 231)" fill="#000">APAP</text>
<text x="1185.5" y="230" font-size="16.8" text-anchor="end" transform="rotate(-45 1185.5 230)" fill="#000">APAP + si<tspan font-style="italic">Cnnm4</tspan></text>
<text x="250.6" y="366.2" font-size="16.2" font-weight="bold" text-anchor="middle" fill="#000">Changes in mRNA expression</text>
<text x="250.3" y="384.8" font-size="16.2" font-weight="bold" text-anchor="middle" fill="#000">(Relative fold-change from control group)</text>
<text x="257.1" y="410.2" font-size="14" text-anchor="middle" fill="#000">48h</text>
<line x1="147.2" y1="412.4" x2="351.8" y2="412.4" stroke="#111" stroke-width="1.1"/>
<rect x="145.50" y="417.90" width="105.10" height="39.74" fill="#FDAE63" shape-rendering="crispEdges"/>
<rect x="250.10" y="417.90" width="104.80" height="39.74" fill="#FE6F68" shape-rendering="crispEdges"/>
<text x="136.6" y="443.11875" font-size="16.4" font-style="italic" text-anchor="end" fill="#000">Hgf</text>
<rect x="145.50" y="457.14" width="105.10" height="39.74" fill="#FD6767" shape-rendering="crispEdges"/>
<rect x="250.10" y="457.14" width="104.80" height="39.74" fill="#FD9A66" shape-rendering="crispEdges"/>
<text x="136.6" y="482.35625" font-size="16.4" font-style="italic" text-anchor="end" fill="#000">Hb-egf</text>
<rect x="145.50" y="496.38" width="105.10" height="39.74" fill="#FDA564" shape-rendering="crispEdges"/>
<rect x="250.10" y="496.38" width="104.80" height="39.74" fill="#FD9C66" shape-rendering="crispEdges"/>
<text x="136.6" y="521.59375" font-size="16.4" font-style="italic" text-anchor="end" fill="#000">Egf</text>
<rect x="145.50" y="535.61" width="105.10" height="39.74" fill="#FD8568" shape-rendering="crispEdges"/>
<rect x="250.10" y="535.61" width="104.80" height="39.74" fill="#FD9C66" shape-rendering="crispEdges"/>
<text x="136.6" y="560.83125" font-size="16.4" font-style="italic" text-anchor="end" fill="#000">Btc</text>
<rect x="145.50" y="574.85" width="105.10" height="39.74" fill="#FD6E68" shape-rendering="crispEdges"/>
<rect x="250.10" y="574.85" width="104.80" height="39.74" fill="#FD8868" shape-rendering="crispEdges"/>
<text x="136.6" y="600.0687499999999" font-size="16.4" font-style="italic" text-anchor="end" fill="#000">Btc2</text>
<rect x="145.50" y="614.09" width="105.10" height="39.74" fill="#FDA465" shape-rendering="crispEdges"/>
<rect x="250.10" y="614.09" width="104.80" height="39.74" fill="#FD9E66" shape-rendering="crispEdges"/>
<text x="136.6" y="639.30625" font-size="16.4" font-style="italic" text-anchor="end" fill="#000">Areg</text>
<rect x="145.50" y="653.32" width="105.10" height="39.74" fill="#FD8068" shape-rendering="crispEdges"/>
<rect x="250.10" y="653.32" width="104.80" height="39.74" fill="#FDAC64" shape-rendering="crispEdges"/>
<text x="136.6" y="678.5437499999999" font-size="16.4" font-style="italic" text-anchor="end" fill="#000">Tgf<tspan font-family="Liberation Serif" font-size="17">α</tspan></text>
<rect x="145.50" y="692.56" width="105.10" height="39.74" fill="#FDB064" shape-rendering="crispEdges"/>
<rect x="250.10" y="692.56" width="104.80" height="39.74" fill="#FDB064" shape-rendering="crispEdges"/>
<text x="136.6" y="717.78125" font-size="16.4" font-style="italic" text-anchor="end" fill="#000">Tgf<tspan font-family="Liberation Serif" font-size="17">β</tspan></text>
<rect x="145.50" y="417.90" width="209.40" height="313.90" fill="none" stroke="#000" stroke-width="2.6"/>
<rect x="376.50" y="722.97" width="21.00" height="9.83" fill="#FDC365" shape-rendering="crispEdges"/>
<rect x="376.50" y="713.74" width="21.00" height="9.83" fill="#FDBE64" shape-rendering="crispEdges"/>
<rect x="376.50" y="704.50" width="21.00" height="9.83" fill="#FDB864" shape-rendering="crispEdges"/>
<rect x="376.50" y="695.27" width="21.00" height="9.83" fill="#FCB263" shape-rendering="crispEdges"/>
<rect x="376.50" y="686.04" width="21.00" height="9.83" fill="#FBAD63" shape-rendering="crispEdges"/>
<rect x="376.50" y="676.81" width="21.00" height="9.83" fill="#FBA863" shape-rendering="crispEdges"/>
<rect x="376.50" y="667.57" width="21.00" height="9.83" fill="#FBA263" shape-rendering="crispEdges"/>
<rect x="376.50" y="658.34" width="21.00" height="9.83" fill="#FB9C64" shape-rendering="crispEdges"/>
<rect x="376.50" y="649.11" width="21.00" height="9.83" fill="#FB9764" shape-rendering="crispEdges"/>
<rect x="376.50" y="639.88" width="21.00" height="9.83" fill="#FB9265" shape-rendering="crispEdges"/>
<rect x="376.50" y="630.64" width="21.00" height="9.83" fill="#FB8E65" shape-rendering="crispEdges"/>
<rect x="376.50" y="621.41" width="21.00" height="9.83" fill="#FB8966" shape-rendering="crispEdges"/>
<rect x="376.50" y="612.18" width="21.00" height="9.83" fill="#FB8466" shape-rendering="crispEdges"/>
<rect x="376.50" y="602.95" width="21.00" height="9.83" fill="#FB7F66" shape-rendering="crispEdges"/>
<rect x="376.50" y="593.71" width="21.00" height="9.83" fill="#FA7A65" shape-rendering="crispEdges"/>
<rect x="376.50" y="584.48" width="21.00" height="9.83" fill="#FA7465" shape-rendering="crispEdges"/>
<rect x="376.50" y="575.25" width="21.00" height="9.83" fill="#F96E64" shape-rendering="crispEdges"/>
<rect x="376.50" y="566.02" width="21.00" height="9.83" fill="#F66564" shape-rendering="crispEdges"/>
<rect x="376.50" y="556.79" width="21.00" height="9.83" fill="#F15F5F" shape-rendering="crispEdges"/>
<rect x="376.50" y="547.55" width="21.00" height="9.83" fill="#EA5959" shape-rendering="crispEdges"/>
<rect x="376.50" y="538.32" width="21.00" height="9.83" fill="#E35454" shape-rendering="crispEdges"/>
<rect x="376.50" y="529.09" width="21.00" height="9.83" fill="#DA4D4D" shape-rendering="crispEdges"/>
<rect x="376.50" y="519.86" width="21.00" height="9.83" fill="#D34747" shape-rendering="crispEdges"/>
<rect x="376.50" y="510.62" width="21.00" height="9.83" fill="#CD4242" shape-rendering="crispEdges"/>
<rect x="376.50" y="501.39" width="21.00" height="9.83" fill="#C63B3B" shape-rendering="crispEdges"/>
<rect x="376.50" y="492.16" width="21.00" height="9.83" fill="#C13636" shape-rendering="crispEdges"/>
<rect x="376.50" y="482.93" width="21.00" height="9.83" fill="#BA3030" shape-rendering="crispEdges"/>
<rect x="376.50" y="473.69" width="21.00" height="9.83" fill="#B32A2A" shape-rendering="crispEdges"/>
<rect x="376.50" y="464.46" width="21.00" height="9.83" fill="#AD2626" shape-rendering="crispEdges"/>
<rect x="376.50" y="455.23" width="21.00" height="9.83" fill="#A42020" shape-rendering="crispEdges"/>
<rect x="376.50" y="446.00" width="21.00" height="9.83" fill="#9E1B1B" shape-rendering="crispEdges"/>
<rect x="376.50" y="436.76" width="21.00" height="9.83" fill="#981616" shape-rendering="crispEdges"/>
<rect x="376.50" y="427.53" width="21.00" height="9.83" fill="#910F0F" shape-rendering="crispEdges"/>
<rect x="376.50" y="418.30" width="21.00" height="9.83" fill="#890505" shape-rendering="crispEdges"/>
<rect x="376.50" y="418.30" width="21.00" height="313.90" fill="none" stroke="#000" stroke-width="2.2"/>
<line x1="375.4" y1="672.2" x2="380.8" y2="672.2" stroke="#000" stroke-width="2"/>
<line x1="393.2" y1="672.2" x2="398.6" y2="672.2" stroke="#000" stroke-width="2"/>
<text x="405" y="677.0" font-size="13.5" fill="#000">1</text>
<line x1="375.4" y1="608.8000000000001" x2="380.8" y2="608.8000000000001" stroke="#000" stroke-width="2"/>
<line x1="393.2" y1="608.8000000000001" x2="398.6" y2="608.8000000000001" stroke="#000" stroke-width="2"/>
<text x="405" y="613.6" font-size="13.5" fill="#000">2</text>
<line x1="375.4" y1="545.4000000000001" x2="380.8" y2="545.4000000000001" stroke="#000" stroke-width="2"/>
<line x1="393.2" y1="545.4000000000001" x2="398.6" y2="545.4000000000001" stroke="#000" stroke-width="2"/>
<text x="405" y="550.2" font-size="13.5" fill="#000">3</text>
<line x1="375.4" y1="482.0" x2="380.8" y2="482.0" stroke="#000" stroke-width="2"/>
<line x1="393.2" y1="482.0" x2="398.6" y2="482.0" stroke="#000" stroke-width="2"/>
<text x="405" y="486.8" font-size="13.5" fill="#000">4</text>
<line x1="375.4" y1="418.6" x2="380.8" y2="418.6" stroke="#000" stroke-width="2"/>
<line x1="393.2" y1="418.6" x2="398.6" y2="418.6" stroke="#000" stroke-width="2"/>
<text x="405" y="423.40000000000003" font-size="13.5" fill="#000">5</text>
<text x="202.7" y="753.5" font-size="17.2" text-anchor="end" transform="rotate(-45 202.7 753.5)" fill="#000">APAP</text>
<text x="307.7" y="753.5" font-size="16.7" text-anchor="end" transform="rotate(-45 307.7 753.5)" fill="#000">APAP + GalNAc</text>
<text x="708.3" y="364.3" font-size="16.2" font-weight="bold" text-anchor="middle" fill="#000">Changes in mRNA expression</text>
<text x="708.1" y="383" font-size="16.2" font-weight="bold" text-anchor="middle" fill="#000">(Relative fold-change from control group)</text>
<text x="718" y="403.3" font-size="14" text-anchor="middle" fill="#000">36h</text>
<line x1="603.8" y1="408.5" x2="811.7" y2="408.5" stroke="#111" stroke-width="1.1"/>
<rect x="603.40" y="414.60" width="105.20" height="39.65" fill="#FDA563" shape-rendering="crispEdges"/>
<rect x="708.10" y="414.60" width="104.70" height="39.65" fill="#FDB564" shape-rendering="crispEdges"/>
<text x="595" y="439.77500000000003" font-size="16.4" font-style="italic" text-anchor="end" fill="#000">Hgf</text>
<rect x="603.40" y="453.75" width="105.20" height="39.65" fill="#FDA064" shape-rendering="crispEdges"/>
<rect x="708.10" y="453.75" width="104.70" height="39.65" fill="#FD7868" shape-rendering="crispEdges"/>
<text x="595" y="478.925" font-size="16.4" font-style="italic" text-anchor="end" fill="#000">Hb-egf</text>
<rect x="603.40" y="492.90" width="105.20" height="39.65" fill="#FD9966" shape-rendering="crispEdges"/>
<rect x="708.10" y="492.90" width="104.70" height="39.65" fill="#FDB064" shape-rendering="crispEdges"/>
<text x="595" y="518.075" font-size="16.4" font-style="italic" text-anchor="end" fill="#000">Egf</text>
<rect x="603.40" y="532.05" width="105.20" height="39.65" fill="#FD6C66" shape-rendering="crispEdges"/>
<rect x="708.10" y="532.05" width="104.70" height="39.65" fill="#FD9066" shape-rendering="crispEdges"/>
<text x="595" y="557.225" font-size="16.4" font-style="italic" text-anchor="end" fill="#000">Btc</text>
<rect x="603.40" y="571.20" width="105.20" height="39.65" fill="#FD9A66" shape-rendering="crispEdges"/>
<rect x="708.10" y="571.20" width="104.70" height="39.65" fill="#FD7A68" shape-rendering="crispEdges"/>
<text x="595" y="596.3750000000001" font-size="16.4" font-style="italic" text-anchor="end" fill="#000">Btc2</text>
<rect x="603.40" y="610.35" width="105.20" height="39.65" fill="#FD9568" shape-rendering="crispEdges"/>
<rect x="708.10" y="610.35" width="104.70" height="39.65" fill="#FDA464" shape-rendering="crispEdges"/>
<text x="595" y="635.525" font-size="16.4" font-style="italic" text-anchor="end" fill="#000">Areg</text>
<rect x="603.40" y="649.50" width="105.20" height="39.65" fill="#FDA664" shape-rendering="crispEdges"/>
<rect x="708.10" y="649.50" width="104.70" height="39.65" fill="#FDA564" shape-rendering="crispEdges"/>
<text x="595" y="674.6750000000001" font-size="16.4" font-style="italic" text-anchor="end" fill="#000">Tgf<tspan font-family="Liberation Serif" font-size="17">α</tspan></text>
<rect x="603.40" y="688.65" width="105.20" height="39.65" fill="#FD9668" shape-rendering="crispEdges"/>
<rect x="708.10" y="688.65" width="104.70" height="39.65" fill="#FDA464" shape-rendering="crispEdges"/>
<text x="595" y="713.825" font-size="16.4" font-style="italic" text-anchor="end" fill="#000">Tgf<tspan font-family="Liberation Serif" font-size="17">β</tspan></text>
<rect x="603.40" y="414.60" width="209.40" height="313.20" fill="none" stroke="#000" stroke-width="2.6"/>
<rect x="834.30" y="719.36" width="21.10" height="9.84" fill="#FDBC64" shape-rendering="crispEdges"/>
<rect x="834.30" y="710.12" width="21.10" height="9.84" fill="#FCB663" shape-rendering="crispEdges"/>
<rect x="834.30" y="700.89" width="21.10" height="9.84" fill="#FCB063" shape-rendering="crispEdges"/>
<rect x="834.30" y="691.65" width="21.10" height="9.84" fill="#FBAC63" shape-rendering="crispEdges"/>
<rect x="834.30" y="682.41" width="21.10" height="9.84" fill="#FBA663" shape-rendering="crispEdges"/>
<rect x="834.30" y="673.17" width="21.10" height="9.84" fill="#FBA063" shape-rendering="crispEdges"/>
<rect x="834.30" y="663.93" width="21.10" height="9.84" fill="#FB9B64" shape-rendering="crispEdges"/>
<rect x="834.30" y="654.69" width="21.10" height="9.84" fill="#FB9664" shape-rendering="crispEdges"/>
<rect x="834.30" y="645.46" width="21.10" height="9.84" fill="#FB9265" shape-rendering="crispEdges"/>
<rect x="834.30" y="636.22" width="21.10" height="9.84" fill="#FB8E65" shape-rendering="crispEdges"/>
<rect x="834.30" y="626.98" width="21.10" height="9.84" fill="#FB8966" shape-rendering="crispEdges"/>
<rect x="834.30" y="617.74" width="21.10" height="9.84" fill="#FB8466" shape-rendering="crispEdges"/>
<rect x="834.30" y="608.50" width="21.10" height="9.84" fill="#FB7F66" shape-rendering="crispEdges"/>
<rect x="834.30" y="599.26" width="21.10" height="9.84" fill="#FA7A65" shape-rendering="crispEdges"/>
<rect x="834.30" y="590.03" width="21.10" height="9.84" fill="#FA7565" shape-rendering="crispEdges"/>
<rect x="834.30" y="580.79" width="21.10" height="9.84" fill="#F96F64" shape-rendering="crispEdges"/>
<rect x="834.30" y="571.55" width="21.10" height="9.84" fill="#F76765" shape-rendering="crispEdges"/>
<rect x="834.30" y="562.31" width="21.10" height="9.84" fill="#F36161" shape-rendering="crispEdges"/>
<rect x="834.30" y="553.07" width="21.10" height="9.84" fill="#ED5B5B" shape-rendering="crispEdges"/>
<rect x="834.30" y="543.84" width="21.10" height="9.84" fill="#E65656" shape-rendering="crispEdges"/>
<rect x="834.30" y="534.60" width="21.10" height="9.84" fill="#DE5050" shape-rendering="crispEdges"/>
<rect x="834.30" y="525.36" width="21.10" height="9.84" fill="#D54A4A" shape-rendering="crispEdges"/>
<rect x="834.30" y="516.12" width="21.10" height="9.84" fill="#D04545" shape-rendering="crispEdges"/>
<rect x="834.30" y="506.88" width="21.10" height="9.84" fill="#C93E3E" shape-rendering="crispEdges"/>
<rect x="834.30" y="497.64" width="21.10" height="9.84" fill="#C43939" shape-rendering="crispEdges"/>
<rect x="834.30" y="488.41" width="21.10" height="9.84" fill="#BF3434" shape-rendering="crispEdges"/>
<rect x="834.30" y="479.17" width="21.10" height="9.84" fill="#B82E2E" shape-rendering="crispEdges"/>
<rect x="834.30" y="469.93" width="21.10" height="9.84" fill="#B12929" shape-rendering="crispEdges"/>
<rect x="834.30" y="460.69" width="21.10" height="9.84" fill="#AB2424" shape-rendering="crispEdges"/>
<rect x="834.30" y="451.45" width="21.10" height="9.84" fill="#A31F1F" shape-rendering="crispEdges"/>
<rect x="834.30" y="442.21" width="21.10" height="9.84" fill="#9D1B1B" shape-rendering="crispEdges"/>
<rect x="834.30" y="432.98" width="21.10" height="9.84" fill="#971616" shape-rendering="crispEdges"/>
<rect x="834.30" y="423.74" width="21.10" height="9.84" fill="#900F0F" shape-rendering="crispEdges"/>
<rect x="834.30" y="414.50" width="21.10" height="9.84" fill="#890505" shape-rendering="crispEdges"/>
<rect x="834.30" y="414.50" width="21.10" height="314.10" fill="none" stroke="#000" stroke-width="2.2"/>
<text x="862.5" y="418.7" font-size="13.5" fill="#000">2.0</text>
<line x1="833.2" y1="447.09999999999997" x2="838.7" y2="447.09999999999997" stroke="#000" stroke-width="2"/>
<line x1="851" y1="447.09999999999997" x2="856.5" y2="447.09999999999997" stroke="#000" stroke-width="2"/>
<text x="862.5" y="451.9" font-size="13.5" fill="#000">1.8</text>
<line x1="833.2" y1="480.29999999999995" x2="838.7" y2="480.29999999999995" stroke="#000" stroke-width="2"/>
<line x1="851" y1="480.29999999999995" x2="856.5" y2="480.29999999999995" stroke="#000" stroke-width="2"/>
<text x="862.5" y="485.09999999999997" font-size="13.5" fill="#000">1.6</text>
<line x1="833.2" y1="513.5" x2="838.7" y2="513.5" stroke="#000" stroke-width="2"/>
<line x1="851" y1="513.5" x2="856.5" y2="513.5" stroke="#000" stroke-width="2"/>
<text x="862.5" y="518.3" font-size="13.5" fill="#000">1.4</text>
<line x1="833.2" y1="546.7" x2="838.7" y2="546.7" stroke="#000" stroke-width="2"/>
<line x1="851" y1="546.7" x2="856.5" y2="546.7" stroke="#000" stroke-width="2"/>
<text x="862.5" y="551.5" font-size="13.5" fill="#000">1.2</text>
<line x1="833.2" y1="579.9" x2="838.7" y2="579.9" stroke="#000" stroke-width="2"/>
<line x1="851" y1="579.9" x2="856.5" y2="579.9" stroke="#000" stroke-width="2"/>
<text x="862.5" y="584.6999999999999" font-size="13.5" fill="#000">1.0</text>
<line x1="833.2" y1="613.1" x2="838.7" y2="613.1" stroke="#000" stroke-width="2"/>
<line x1="851" y1="613.1" x2="856.5" y2="613.1" stroke="#000" stroke-width="2"/>
<text x="862.5" y="617.9" font-size="13.5" fill="#000">0.8</text>
<line x1="833.2" y1="646.3" x2="838.7" y2="646.3" stroke="#000" stroke-width="2"/>
<line x1="851" y1="646.3" x2="856.5" y2="646.3" stroke="#000" stroke-width="2"/>
<text x="862.5" y="651.0999999999999" font-size="13.5" fill="#000">0.6</text>
<line x1="833.2" y1="679.5" x2="838.7" y2="679.5" stroke="#000" stroke-width="2"/>
<line x1="851" y1="679.5" x2="856.5" y2="679.5" stroke="#000" stroke-width="2"/>
<text x="862.5" y="684.3" font-size="13.5" fill="#000">0.4</text>
<line x1="833.2" y1="712.7" x2="838.7" y2="712.7" stroke="#000" stroke-width="2"/>
<line x1="851" y1="712.7" x2="856.5" y2="712.7" stroke="#000" stroke-width="2"/>
<text x="862.5" y="717.5" font-size="13.5" fill="#000">0.2</text>
<text x="661.3" y="749.8" font-size="17.2" text-anchor="end" transform="rotate(-45 661.3 749.8)" fill="#000">APAP</text>
<text x="765.6" y="749.9" font-size="16.7" text-anchor="end" transform="rotate(-45 765.6 749.9)" fill="#000">APAP + GalNAc</text>
<rect x="86.75" y="882.95" width="6.50" height="6.50" fill="#E3AE1F" stroke="#000" stroke-width="1.5"/>
<text x="109.3" y="890.7" font-size="13.8" fill="#000">Ctrl</text>
<rect x="161.05" y="883.05" width="6.50" height="6.50" fill="#F27E7E" stroke="#000" stroke-width="1.5"/>
<text x="184.1" y="890.7" font-size="13.8" fill="#000">APAP</text>
<rect x="247.55" y="882.95" width="6.50" height="6.50" fill="#B51434" stroke="#000" stroke-width="1.5"/>
<text x="270" y="890.7" font-size="13.8" fill="#000">APAP + Ga<tspan font-style="italic">lNAc</tspan></text>
<line x1="181.6" y1="931.2" x2="181.6" y2="1115" stroke="#565656" stroke-width="1.2"/>
<line x1="181.6" y1="1115" x2="291.7" y2="1115" stroke="#565656" stroke-width="1.2"/>
<line x1="177.5" y1="1115.0" x2="181.6" y2="1115.0" stroke="#565656" stroke-width="1.2"/>
<text x="176.5" y="1119.9" font-size="13.6" font-weight="bold" text-anchor="end" fill="#000">0.0</text>
<line x1="179.5" y1="1084.375" x2="181.6" y2="1084.375" stroke="#565656" stroke-width="1.2"/>
<line x1="177.5" y1="1053.75" x2="181.6" y2="1053.75" stroke="#565656" stroke-width="1.2"/>
<text x="176.5" y="1058.65" font-size="13.6" font-weight="bold" text-anchor="end" fill="#000">0.5</text>
<line x1="179.5" y1="1023.125" x2="181.6" y2="1023.125" stroke="#565656" stroke-width="1.2"/>
<line x1="177.5" y1="992.5" x2="181.6" y2="992.5" stroke="#565656" stroke-width="1.2"/>
<text x="176.5" y="997.4" font-size="13.6" font-weight="bold" text-anchor="end" fill="#000">1.0</text>
<line x1="179.5" y1="961.875" x2="181.6" y2="961.875" stroke="#565656" stroke-width="1.2"/>
<line x1="177.5" y1="931.25" x2="181.6" y2="931.25" stroke="#565656" stroke-width="1.2"/>
<text x="176.5" y="936.15" font-size="13.6" font-weight="bold" text-anchor="end" fill="#000">1.5</text>
<line x1="236.7" y1="1115" x2="236.7" y2="1119.3" stroke="#565656" stroke-width="1.2"/>
<text x="236.4" y="1136" font-size="16" font-style="italic" text-anchor="middle" fill="#000">P21</text>
<line x1="181" y1="1155.4" x2="298" y2="1155.4" stroke="#565656" stroke-width="1.2"/>
<text x="241.7" y="1180" font-size="16" text-anchor="middle" fill="#000">36h</text>
<text x="126.7" y="1022.8" font-size="18.2" font-weight="bold" text-anchor="middle" transform="rotate(-90 126.7 1022.8)" fill="#000">Relative mice mRNA</text>
<text x="146.8" y="1022.8" font-size="18.2" font-weight="bold" text-anchor="middle" transform="rotate(-90 146.8 1022.8)" fill="#000">expression (fold-change)</text>
<rect x="188.40" y="993.50" width="23.70" height="121.50" fill="#E3AE1F" stroke="#000" stroke-width="2"/>
<rect x="225.40" y="979.40" width="23.20" height="135.60" fill="#F27E7E" stroke="#000" stroke-width="2"/>
<rect x="261.60" y="1055.50" width="23.80" height="59.50" fill="#B51434" stroke="#000" stroke-width="2"/>
<rect x="192.20" y="971.50" width="5.60" height="5.60" fill="#E3AE1F" stroke="#000" stroke-width="1.6"/>
<rect x="202.70" y="966.90" width="5.60" height="5.60" fill="#E3AE1F" stroke="#000" stroke-width="1.6"/>
<rect x="197.20" y="1002.00" width="5.60" height="5.60" fill="#E3AE1F" stroke="#000" stroke-width="1.6"/>
<rect x="197.20" y="1020.70" width="5.60" height="5.60" fill="#E3AE1F" stroke="#000" stroke-width="1.6"/>
<rect x="229.00" y="951.80" width="5.60" height="5.60" fill="#F27E7E" stroke="#000" stroke-width="1.6"/>
<rect x="239.50" y="957.90" width="5.60" height="5.60" fill="#F27E7E" stroke="#000" stroke-width="1.6"/>
<rect x="239.20" y="992.50" width="5.60" height="5.60" fill="#F27E7E" stroke="#000" stroke-width="1.6"/>
<rect x="229.00" y="1002.40" width="5.60" height="5.60" fill="#F27E7E" stroke="#000" stroke-width="1.6"/>
<rect x="270.60" y="1036.20" width="5.60" height="5.60" fill="#B51434" stroke="#000" stroke-width="1.6"/>
<rect x="265.20" y="1053.50" width="5.60" height="5.60" fill="#B51434" stroke="#000" stroke-width="1.6"/>
<rect x="276.00" y="1053.50" width="5.60" height="5.60" fill="#B51434" stroke="#000" stroke-width="1.6"/>
<rect x="270.60" y="1065.60" width="5.60" height="5.60" fill="#B51434" stroke="#000" stroke-width="1.6"/>
<line x1="200.3" y1="980.3" x2="200.3" y2="1005.75" stroke="#000" stroke-width="1.8"/>
<line x1="193.60000000000002" y1="980.3" x2="207.0" y2="980.3" stroke="#000" stroke-width="1.8"/>
<line x1="193.60000000000002" y1="1005.75" x2="207.0" y2="1005.75" stroke="#000" stroke-width="1.8"/>
<line x1="236.8" y1="966.5" x2="236.8" y2="991.4" stroke="#000" stroke-width="1.8"/>
<line x1="230.10000000000002" y1="966.5" x2="243.5" y2="966.5" stroke="#000" stroke-width="1.8"/>
<line x1="230.10000000000002" y1="991.4" x2="243.5" y2="991.4" stroke="#000" stroke-width="1.8"/>
<line x1="273.4" y1="1049.3" x2="273.4" y2="1059.8" stroke="#000" stroke-width="1.8"/>
<line x1="266.7" y1="1049.3" x2="280.09999999999997" y2="1049.3" stroke="#000" stroke-width="1.8"/>
<line x1="266.7" y1="1059.8" x2="280.09999999999997" y2="1059.8" stroke="#000" stroke-width="1.8"/>
<polyline points="237.6,939.1 237.6,927.7 271.7,927.7 271.7,939.1" fill="none" stroke="#666666" stroke-width="1.1"/>
<path d="M244.50,915.10L244.50,910.60M244.50,915.10L248.78,913.71M244.50,915.10L247.15,918.74M244.50,915.10L241.85,918.74M244.50,915.10L240.22,913.71" stroke="#000" stroke-width="1.75" fill="none"/>
<path d="M254.80,915.10L254.80,910.60M254.80,915.10L259.08,913.71M254.80,915.10L257.45,918.74M254.80,915.10L252.15,918.74M254.80,915.10L250.52,913.71" stroke="#000" stroke-width="1.75" fill="none"/>
<path d="M265.10,915.10L265.10,910.60M265.10,915.10L269.38,913.71M265.10,915.10L267.75,918.74M265.10,915.10L262.45,918.74M265.10,915.10L260.82,913.71" stroke="#000" stroke-width="1.75" fill="none"/>
<defs><filter id="bb" x="-30%" y="-80%" width="160%" height="260%"><feGaussianBlur stdDeviation="1.2 0.9"/></filter><filter id="bb2" x="-30%" y="-80%" width="160%" height="260%"><feGaussianBlur stdDeviation="0.6"/></filter></defs>
<defs><linearGradient id="bg1" x1="0" y1="0" x2="0" y2="1"><stop offset="0" stop-color="#EFEFEF"/><stop offset="1" stop-color="#E4E4E4"/></linearGradient><linearGradient id="bg2" x1="0" y1="0" x2="0" y2="1"><stop offset="0" stop-color="#D6D6D6"/><stop offset="1" stop-color="#DEDEDE"/></linearGradient></defs>
<rect x="520.20" y="1026.00" width="198.20" height="21.10" fill="url(#bg1)"/>
<g filter="url(#bb)"><rect x="586.4" y="1033.3" width="14.099999999999932" height="4.699999999999955" rx="2" fill="#6a6a6a"/><rect x="602.6999999999999" y="1034.3" width="13.500000000000023" height="3.6000000000000454" rx="2" fill="#a2a2a2"/><rect x="618.5" y="1034.5" width="12.9" height="3.1999999999999544" rx="2" fill="#b2b2b2"/><rect x="633.0999999999999" y="1032.2" width="15.200000000000069" height="8.199999999999955" rx="2" fill="#565656"/><rect x="650.5999999999999" y="1034.3" width="14.000000000000023" height="4.4" rx="2" fill="#9c9c9c"/><rect x="666.3" y="1032.8" width="15.299999999999978" height="6.9" rx="2" fill="#727272"/><rect x="682.6999999999999" y="1031.6" width="15.799999999999978" height="9.9" rx="2" fill="#5e5e5e"/><rect x="700.1999999999999" y="1034.3" width="14.000000000000023" height="4.4" rx="2" fill="#8a8a8a"/><rect x="636" y="1040" width="10" height="4" fill="#c8c8c8"/><rect x="685" y="1041" width="11" height="5" fill="#bdbdbd"/><rect x="686" y="1027" width="10" height="4" fill="#d5d5d5"/></g>
<rect x="520.10" y="1025.90" width="198.40" height="21.30" fill="none" stroke="#000" stroke-width="1.8"/>
<rect x="520.20" y="1053.60" width="197.40" height="19.10" fill="url(#bg2)"/>
<g filter="url(#bb2)"><ellipse cx="528.3" cy="1060.3" rx="7.300000000000011" ry="2.3" fill="#141414"/><ellipse cx="544.75" cy="1060.5" rx="8.850000000000023" ry="2.3" fill="#141414"/><ellipse cx="562.0" cy="1061.1" rx="8.600000000000023" ry="2.3" fill="#141414"/><ellipse cx="578.75" cy="1060.5" rx="7.850000000000023" ry="2.3" fill="#141414"/><ellipse cx="593.7" cy="1061.7" rx="7.099999999999966" ry="2.3" fill="#141414"/><ellipse cx="608.3" cy="1062.8" rx="8.300000000000011" ry="2.3" fill="#141414"/><ellipse cx="624.05" cy="1063.7" rx="7.75" ry="2.3" fill="#141414"/><ellipse cx="640.4000000000001" cy="1063.8" rx="8.300000000000011" ry="2.3" fill="#141414"/><ellipse cx="656.4" cy="1064" rx="8.0" ry="2.3" fill="#141414"/><ellipse cx="671.6" cy="1064.4" rx="7.399999999999977" ry="2.3" fill="#141414"/><ellipse cx="687.4" cy="1065.4" rx="8.0" ry="2.3" fill="#141414"/><ellipse cx="704.0" cy="1066" rx="7.7000000000000455" ry="2.3" fill="#141414"/></g>
<rect x="520.10" y="1053.50" width="197.60" height="19.30" fill="none" stroke="#000" stroke-width="1.8"/>
<line x1="524.3" y1="1018.3" x2="584.3" y2="1018.3" stroke="#000" stroke-width="1.3"/>
<line x1="589.8" y1="1018.3" x2="650.4" y2="1018.3" stroke="#000" stroke-width="1.3"/>
<line x1="656.8" y1="1018.3" x2="717" y2="1018.3" stroke="#000" stroke-width="1.3"/>
<line x1="721.4" y1="1033" x2="730" y2="1033" stroke="#000" stroke-width="2.2"/>
<line x1="721.4" y1="1060.9" x2="730" y2="1060.9" stroke="#000" stroke-width="2.2"/>
<text x="740.5" y="1041.3" font-size="13.5" fill="#000" textLength="42.7" lengthAdjust="spacingAndGlyphs">145kDa</text>
<text x="740.5" y="1069" font-size="13.5" fill="#000" textLength="35" lengthAdjust="spacingAndGlyphs">42kDa</text>
<text x="513.7" y="1043" font-size="16.3" font-weight="bold" text-anchor="end" fill="#000">Phospho-cMET</text>
<text x="513.7" y="1068" font-size="16.3" font-weight="bold" text-anchor="end" fill="#000"><tspan font-size="19">β</tspan>-ACTIN</text>
<text x="570.5" y="995.5" font-size="14.5" font-weight="bold" text-anchor="end" transform="rotate(-45 570.5 995.5)" fill="#000">Ctrl</text>
<text x="646.5" y="984" font-size="14.5" font-weight="bold" text-anchor="end" transform="rotate(-45 646.5 984)" fill="#000">APAP</text>
<text x="711" y="966" font-size="14.5" font-weight="bold" text-anchor="end" transform="rotate(-45 711 966)" fill="#000">APAP +</text>
<text x="722.8" y="979.8" font-size="14.5" font-weight="bold" text-anchor="end" transform="rotate(-45 722.8 979.8)" fill="#000">GalNAc</text>
<line x1="887.4" y1="937.1" x2="887.4" y2="1022.1" stroke="#565656" stroke-width="1.2"/>
<line x1="883.2" y1="937.1" x2="887.4" y2="937.1" stroke="#565656" stroke-width="1.2"/>
<text x="880.9" y="941.9" font-size="13.3" font-weight="bold" text-anchor="end" fill="#000">28</text>
<line x1="883.2" y1="958.35" x2="887.4" y2="958.35" stroke="#565656" stroke-width="1.2"/>
<text x="880.9" y="963.15" font-size="13.3" font-weight="bold" text-anchor="end" fill="#000">22</text>
<line x1="883.2" y1="979.6" x2="887.4" y2="979.6" stroke="#565656" stroke-width="1.2"/>
<text x="880.9" y="984.4" font-size="13.3" font-weight="bold" text-anchor="end" fill="#000">16</text>
<line x1="883.2" y1="1000.85" x2="887.4" y2="1000.85" stroke="#565656" stroke-width="1.2"/>
<text x="880.9" y="1005.65" font-size="13.3" font-weight="bold" text-anchor="end" fill="#000">10</text>
<line x1="883.2" y1="1022.1" x2="892.1" y2="1022.1" stroke="#565656" stroke-width="1.2"/>
<text x="880.9" y="1026.9" font-size="13.3" font-weight="bold" text-anchor="end" fill="#000">4</text>
<line x1="887.4" y1="1036.8" x2="887.4" y2="1120.1" stroke="#565656" stroke-width="1.2"/>
<line x1="883.2" y1="1036.5" x2="892.1" y2="1036.5" stroke="#565656" stroke-width="1.2"/>
<text x="880.9" y="1041.3" font-size="13.3" font-weight="bold" text-anchor="end" fill="#000">2</text>
<line x1="883.2" y1="1078.3" x2="887.4" y2="1078.3" stroke="#565656" stroke-width="1.2"/>
<text x="880.9" y="1083.1" font-size="13.3" font-weight="bold" text-anchor="end" fill="#000">1</text>
<line x1="883.2" y1="1120.1" x2="887.4" y2="1120.1" stroke="#565656" stroke-width="1.2"/>
<text x="880.9" y="1124.8999999999999" font-size="13.3" font-weight="bold" text-anchor="end" fill="#000">0</text>
<line x1="887.4" y1="1120.1" x2="997.8" y2="1120.1" stroke="#565656" stroke-width="1.2"/>
<line x1="942.8" y1="1120.1" x2="942.8" y2="1124" stroke="#565656" stroke-width="1.2"/>
<rect x="904.30" y="1080.40" width="17.00" height="40.20" fill="#E3AE1F" stroke="#000" stroke-width="2"/>
<rect x="933.10" y="1036.80" width="19.50" height="83.80" fill="#F27E7E"/>
<line x1="934.1" y1="1036.8" x2="934.1" y2="1120.6" stroke="#000" stroke-width="2"/>
<line x1="951.6" y1="1036.8" x2="951.6" y2="1120.6" stroke="#000" stroke-width="2"/>
<line x1="933.1" y1="1119.6" x2="952.6" y2="1119.6" stroke="#000" stroke-width="2"/>
<rect x="963.30" y="1036.80" width="18.90" height="83.80" fill="#B51434"/>
<line x1="964.3" y1="1036.8" x2="964.3" y2="1120.6" stroke="#000" stroke-width="2"/>
<line x1="981.2" y1="1036.8" x2="981.2" y2="1120.6" stroke="#000" stroke-width="2"/>
<line x1="963.3" y1="1119.6" x2="982.2" y2="1119.6" stroke="#000" stroke-width="2"/>
<rect x="933.10" y="1009.20" width="19.50" height="12.70" fill="#F27E7E"/>
<line x1="934.1" y1="1009.2" x2="934.1" y2="1021.9" stroke="#000" stroke-width="2"/>
<line x1="951.6" y1="1009.2" x2="951.6" y2="1021.9" stroke="#000" stroke-width="2"/>
<line x1="933.1" y1="1010.2" x2="952.6" y2="1010.2" stroke="#000" stroke-width="2"/>
<rect x="963.30" y="963.40" width="18.90" height="58.50" fill="#B51434"/>
<line x1="964.3" y1="963.4" x2="964.3" y2="1021.9" stroke="#000" stroke-width="2"/>
<line x1="981.2" y1="963.4" x2="981.2" y2="1021.9" stroke="#000" stroke-width="2"/>
<line x1="963.3" y1="964.4" x2="982.2" y2="964.4" stroke="#000" stroke-width="2"/>
<rect x="910.05" y="1047.75" width="5.50" height="5.50" fill="#E3AE1F" stroke="#000" stroke-width="1.6"/>
<rect x="910.05" y="1068.25" width="5.50" height="5.50" fill="#E3AE1F" stroke="#000" stroke-width="1.6"/>
<rect x="910.05" y="1088.25" width="5.50" height="5.50" fill="#E3AE1F" stroke="#000" stroke-width="1.6"/>
<rect x="910.05" y="1099.75" width="5.50" height="5.50" fill="#E3AE1F" stroke="#000" stroke-width="1.6"/>
<rect x="939.85" y="985.55" width="5.50" height="5.50" fill="#F27E7E" stroke="#000" stroke-width="1.6"/>
<rect x="936.15" y="1009.85" width="5.50" height="5.50" fill="#F27E7E" stroke="#000" stroke-width="1.6"/>
<rect x="944.75" y="1009.85" width="5.50" height="5.50" fill="#F27E7E" stroke="#000" stroke-width="1.6"/>
<rect x="933.15" y="1017.75" width="5.50" height="5.50" fill="#F27E7E" stroke="#000" stroke-width="1.6"/>
<rect x="946.35" y="1016.75" width="5.50" height="5.50" fill="#F27E7E" stroke="#000" stroke-width="1.6"/>
<rect x="969.55" y="942.15" width="5.50" height="5.50" fill="#B51434" stroke="#000" stroke-width="1.6"/>
<rect x="963.05" y="950.75" width="5.50" height="5.50" fill="#B51434" stroke="#000" stroke-width="1.6"/>
<rect x="976.65" y="951.75" width="5.50" height="5.50" fill="#B51434" stroke="#000" stroke-width="1.6"/>
<rect x="969.55" y="995.15" width="5.50" height="5.50" fill="#B51434" stroke="#000" stroke-width="1.6"/>
<line x1="912.8" y1="1067.3" x2="912.8" y2="1090.1" stroke="#000" stroke-width="1.8"/>
<line x1="907.0" y1="1067.3" x2="918.5999999999999" y2="1067.3" stroke="#000" stroke-width="1.8"/>
<line x1="907.0" y1="1090.1" x2="918.5999999999999" y2="1090.1" stroke="#000" stroke-width="1.8"/>
<line x1="942.6" y1="1000.6" x2="942.6" y2="1009.5" stroke="#000" stroke-width="1.8"/>
<line x1="936.8000000000001" y1="1000.6" x2="948.4" y2="1000.6" stroke="#000" stroke-width="1.8"/>
<line x1="936.8000000000001" y1="1009.5" x2="948.4" y2="1009.5" stroke="#000" stroke-width="1.8"/>
<line x1="972.3" y1="950" x2="972.3" y2="974.9" stroke="#000" stroke-width="1.8"/>
<line x1="966.75" y1="950" x2="977.8499999999999" y2="950" stroke="#000" stroke-width="1.8"/>
<line x1="966.75" y1="974.9" x2="977.8499999999999" y2="974.9" stroke="#000" stroke-width="1.8"/>
<polyline points="901.7,976.7 901.7,965.4 940.8,965.4 940.8,976.7" fill="none" stroke="#666666" stroke-width="1.1"/>
<polyline points="941.3,934.8 941.3,923.4 978.4,923.4 978.4,934.8" fill="none" stroke="#666666" stroke-width="1.1"/>
<path d="M916.45,953.80L916.45,949.20M916.45,953.80L920.82,952.38M916.45,953.80L919.15,957.52M916.45,953.80L913.75,957.52M916.45,953.80L912.08,952.38" stroke="#000" stroke-width="1.75" fill="none"/>
<path d="M926.75,953.80L926.75,949.20M926.75,953.80L931.12,952.38M926.75,953.80L929.45,957.52M926.75,953.80L924.05,957.52M926.75,953.80L922.38,952.38" stroke="#000" stroke-width="1.75" fill="none"/>
<path d="M952.20,911.40L952.20,906.60M952.20,911.40L956.77,909.92M952.20,911.40L955.02,915.28M952.20,911.40L949.38,915.28M952.20,911.40L947.63,909.92" stroke="#000" stroke-width="1.75" fill="none"/>
<path d="M962.50,911.40L962.50,906.60M962.50,911.40L967.07,909.92M962.50,911.40L965.32,915.28M962.50,911.40L959.68,915.28M962.50,911.40L957.93,909.92" stroke="#000" stroke-width="1.75" fill="none"/>
<path d="M972.80,911.40L972.80,906.60M972.80,911.40L977.37,909.92M972.80,911.40L975.62,915.28M972.80,911.40L969.98,915.28M972.80,911.40L968.23,909.92" stroke="#000" stroke-width="1.75" fill="none"/>
<text x="942.6" y="1143" font-size="16.45" text-anchor="middle" fill="#000">Phospho-cMET</text>
<text x="833" y="1019.4" font-size="18.2" font-weight="bold" text-anchor="middle" transform="rotate(-90 833 1019.4)" fill="#000">Relative protein expression</text>
<text x="853.8" y="1019.4" font-size="18.2" font-weight="bold" text-anchor="middle" transform="rotate(-90 853.8 1019.4)" fill="#000">normalized (fold-change)</text>
<rect x="1017.80" y="1003.70" width="6.00" height="6.00" fill="#E3AE1F" stroke="#000" stroke-width="1.5"/>
<text x="1040" y="1011" font-size="13.8" fill="#000">Ctrl</text>
<rect x="1017.80" y="1023.30" width="6.00" height="6.00" fill="#F27E7E" stroke="#000" stroke-width="1.5"/>
<text x="1040" y="1030" font-size="13.8" fill="#000">APAP</text>
<rect x="1017.80" y="1040.50" width="6.00" height="6.00" fill="#B51434" stroke="#000" stroke-width="1.5"/>
<text x="1040" y="1046.7" font-size="13.8" fill="#000">APAP + Ga<tspan font-style="italic">lNAc</tspan></text>
</svg></body></html>
